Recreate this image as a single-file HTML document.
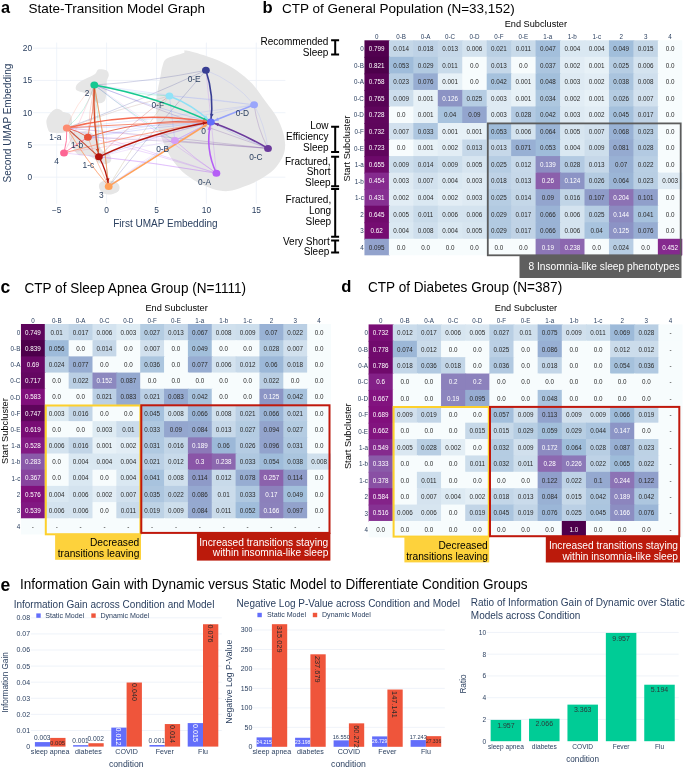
<!DOCTYPE html><html><head><meta charset="utf-8"><style>html,body{margin:0;padding:0;background:#fff;}svg{display:block;will-change:transform;}text{font-family:'Liberation Sans', sans-serif;}</style></head><body>
<svg width="685" height="768" viewBox="0 0 685 768" font-family="'Liberation Sans', sans-serif">
<rect width="685" height="768" fill="#fff"/>
<text x="1.00" y="12.60" font-size="16.3" fill="#000" font-weight="bold">a</text>
<text x="28.50" y="12.60" font-size="13.5" fill="#000">State-Transition Model Graph</text>
<text x="262.50" y="12.70" font-size="16.6" fill="#000" font-weight="bold">b</text>
<text x="282.10" y="12.60" font-size="13.5" fill="#000">CTP of General Population (N=33,152)</text>
<text x="0.60" y="292.60" font-size="17.5" fill="#000" font-weight="bold">c</text>
<text x="24.50" y="292.50" font-size="14.3" fill="#000" textLength="221.55" lengthAdjust="spacingAndGlyphs">CTP of Sleep Apnea Group (N=1111)</text>
<text x="341.20" y="291.90" font-size="16.6" fill="#000" font-weight="bold">d</text>
<text x="368.00" y="292.30" font-size="14.3" fill="#000" textLength="194.16" lengthAdjust="spacingAndGlyphs">CTP of Diabetes Group (N=387)</text>
<text x="0.60" y="590.80" font-size="17.5" fill="#000" font-weight="bold">e</text>
<text x="20.00" y="589.00" font-size="14.3" fill="#000" textLength="507.46" lengthAdjust="spacingAndGlyphs">Information Gain with Dynamic versus Static Model to Differentiate Condition Groups</text>
<line x1="56.70" y1="42.6" x2="56.70" y2="203.6" stroke="#ebf0f8" stroke-width="0.8"/>
<text x="56.70" y="212.74" font-size="8.4" text-anchor="middle" fill="#2a3f5f">−5</text>
<line x1="106.60" y1="42.6" x2="106.60" y2="203.6" stroke="#ebf0f8" stroke-width="0.8"/>
<text x="106.60" y="212.74" font-size="8.4" text-anchor="middle" fill="#2a3f5f">0</text>
<line x1="156.50" y1="42.6" x2="156.50" y2="203.6" stroke="#ebf0f8" stroke-width="0.8"/>
<text x="156.50" y="212.74" font-size="8.4" text-anchor="middle" fill="#2a3f5f">5</text>
<line x1="206.40" y1="42.6" x2="206.40" y2="203.6" stroke="#ebf0f8" stroke-width="0.8"/>
<text x="206.40" y="212.74" font-size="8.4" text-anchor="middle" fill="#2a3f5f">10</text>
<line x1="256.30" y1="42.6" x2="256.30" y2="203.6" stroke="#ebf0f8" stroke-width="0.8"/>
<text x="256.30" y="212.74" font-size="8.4" text-anchor="middle" fill="#2a3f5f">15</text>
<line x1="33.2" y1="177.20" x2="285.4" y2="177.20" stroke="#ebf0f8" stroke-width="0.8"/>
<text x="32.20" y="180.14" font-size="8.4" text-anchor="end" fill="#2a3f5f">0</text>
<line x1="33.2" y1="144.95" x2="285.4" y2="144.95" stroke="#ebf0f8" stroke-width="0.8"/>
<text x="32.20" y="147.89" font-size="8.4" text-anchor="end" fill="#2a3f5f">5</text>
<line x1="33.2" y1="112.70" x2="285.4" y2="112.70" stroke="#ebf0f8" stroke-width="0.8"/>
<text x="32.20" y="115.64" font-size="8.4" text-anchor="end" fill="#2a3f5f">10</text>
<line x1="33.2" y1="80.45" x2="285.4" y2="80.45" stroke="#ebf0f8" stroke-width="0.8"/>
<text x="32.20" y="83.39" font-size="8.4" text-anchor="end" fill="#2a3f5f">15</text>
<line x1="33.2" y1="48.20" x2="285.4" y2="48.20" stroke="#ebf0f8" stroke-width="0.8"/>
<text x="32.20" y="51.14" font-size="8.4" text-anchor="end" fill="#2a3f5f">20</text>
<text x="165.40" y="227.30" font-size="10" text-anchor="middle" fill="#2a3f5f">First UMAP Embedding</text>
<text x="0" y="0" font-size="10" text-anchor="middle" fill="#2a3f5f" transform="translate(11.20,123.1) rotate(-90)">Second UMAP Embedding</text>
<path d="M184.4 50.5C183.1 50.8 186.2 51.8 183.3 53.1C180.4 54.5 170.4 56.4 166.9 58.6C163.4 60.8 163.6 63.2 162.5 66.3C161.4 69.4 161.2 72.5 160.3 77.2C159.4 81.9 157.7 88.9 157.0 94.7C156.3 100.5 155.8 106.8 156.0 112.3C156.2 117.8 156.8 122.5 158.1 127.6C159.4 132.7 161.4 137.8 163.6 142.9C165.8 148.0 168.2 153.4 171.3 158.2C174.4 162.9 177.8 167.4 182.2 171.4C186.6 175.4 192.5 179.4 197.6 182.3C202.7 185.2 207.8 187.4 212.9 188.9C218.0 190.4 223.1 191.5 228.2 191.1C233.3 190.7 238.4 188.5 243.5 186.7C248.6 184.9 253.8 183.0 258.9 180.1C264.0 177.2 270.2 173.2 274.2 169.2C278.2 165.2 281.2 160.0 283.0 156.0C284.8 152.0 285.1 149.1 285.1 145.1C285.1 141.1 284.4 136.8 283.0 132.0C281.6 127.2 279.3 121.7 276.4 116.6C273.5 111.5 269.4 106.8 265.4 101.3C261.4 95.8 257.0 88.9 252.3 83.8C247.6 78.7 242.1 74.4 237.0 70.7C231.9 67.0 227.1 64.5 221.6 61.9C216.1 59.3 209.2 57.0 204.1 55.3C199.0 53.5 194.3 52.2 191.0 51.4C187.7 50.6 185.7 50.2 184.4 50.5Z" fill="#e6e6e6"/>
<path d="M97.6 69.9C98.5 69.1 98.7 69.2 100.2 69.3C101.7 69.4 105.4 69.6 106.8 70.6C108.2 71.6 108.8 73.5 108.8 75.2C108.8 77.0 107.2 78.6 106.8 81.1C106.4 83.6 106.8 87.0 106.5 90.3C106.2 93.6 106.2 98.6 104.8 100.8C103.4 103.0 99.9 103.4 98.3 103.4C96.7 103.4 96.1 102.2 95.0 100.8C93.9 99.4 93.5 96.2 91.7 94.9C90.0 93.6 87.0 93.7 84.5 92.9C82.0 92.1 78.0 91.5 76.6 90.3C75.2 89.1 75.7 87.1 76.2 85.7C76.8 84.3 78.0 83.0 79.9 81.7C81.8 80.4 85.2 79.1 87.7 77.8C90.2 76.5 93.3 75.2 95.0 73.9C96.7 72.6 96.7 70.7 97.6 69.9Z" fill="#e6e6e6"/>
<path d="M56.8 108.8C58.3 108.7 60.1 109.7 61.2 110.2C62.3 110.7 62.1 111.5 63.4 112.0C64.7 112.5 67.9 112.7 69.2 113.5C70.5 114.3 70.9 115.4 71.4 116.8C71.9 118.2 72.1 120.2 72.1 121.9C72.1 123.6 71.8 125.5 71.5 127.0C71.2 128.5 71.2 130.1 70.0 131.0C68.8 131.9 66.1 132.2 64.1 132.6C62.1 133.0 60.5 133.2 58.2 133.2C55.9 133.1 51.9 133.0 50.2 132.3C48.5 131.6 48.6 130.6 48.0 129.2C47.4 127.8 46.8 125.7 46.6 124.1C46.4 122.5 46.2 121.2 46.6 119.7C47.0 118.2 47.8 116.8 48.8 115.3C49.8 113.8 51.1 112.1 52.4 111.0C53.7 109.9 55.3 108.9 56.8 108.8Z" fill="#e6e6e6"/>
<path d="M70.0 131.0C71.5 130.2 75.3 132.0 78.0 132.0C80.7 132.0 83.5 130.7 86.0 131.0C88.5 131.3 91.2 132.5 93.0 134.0C94.8 135.5 95.8 137.8 97.0 140.0C98.2 142.2 98.8 145.0 100.0 147.0C101.2 149.0 102.3 150.7 104.0 152.0C105.7 153.3 108.8 153.5 110.0 155.0C111.2 156.5 111.7 159.5 111.0 161.0C110.3 162.5 108.0 163.7 106.0 164.0C104.0 164.3 101.2 164.0 99.0 163.0C96.8 162.0 95.2 159.3 93.0 158.0C90.8 156.7 88.3 155.5 86.0 155.0C83.7 154.5 81.0 155.8 79.0 155.0C77.0 154.2 75.3 152.0 74.0 150.0C72.7 148.0 71.8 145.2 71.0 143.0C70.2 140.8 69.2 139.0 69.0 137.0C68.8 135.0 68.5 131.8 70.0 131.0Z" fill="#e6e6e6"/>
<path d="M99.0 185.0C99.3 183.6 100.3 182.2 102.0 181.5C103.7 180.8 106.7 180.4 109.0 180.5C111.3 180.6 114.2 181.0 116.0 182.0C117.8 183.0 119.2 184.9 119.5 186.5C119.8 188.1 119.4 190.2 118.0 191.5C116.6 192.8 113.3 194.2 111.0 194.5C108.7 194.8 105.8 194.2 104.0 193.5C102.2 192.8 100.8 191.4 100.0 190.0C99.2 188.6 98.7 186.4 99.0 185.0Z" fill="#e6e6e6"/>
<path d="M205.9 70.3Q150.6 81.6 94.3 85.0" stroke="#383e93" stroke-width="0.5" fill="none" stroke-opacity="0.45"/>
<path d="M205.9 70.3Q137.5 101.9 66.8 128.0" stroke="#383e93" stroke-width="0.5" fill="none" stroke-opacity="0.45"/>
<path d="M205.9 70.3Q234.7 81.0 254.1 104.8" stroke="#9aa6fb" stroke-width="0.5" fill="none" stroke-opacity="0.45"/>
<path d="M205.9 70.3Q155.8 127.1 108.7 186.4" stroke="#383e93" stroke-width="0.5" fill="none" stroke-opacity="0.45"/>
<path d="M169.4 95.9Q131.6 92.4 94.3 85.0" stroke="#91e3f7" stroke-width="0.5" fill="none" stroke-opacity="0.45"/>
<path d="M169.4 95.9Q117.2 109.1 66.8 128.0" stroke="#91e3f7" stroke-width="0.5" fill="none" stroke-opacity="0.45"/>
<path d="M169.4 95.9Q172.2 118.2 174.9 140.6" stroke="#91e3f7" stroke-width="0.5" fill="none" stroke-opacity="0.45"/>
<path d="M169.4 95.9Q136.6 139.5 108.7 186.4" stroke="#91e3f7" stroke-width="0.5" fill="none" stroke-opacity="0.45"/>
<path d="M254.1 104.8Q212.0 98.4 169.4 95.9" stroke="#9aa6fb" stroke-width="0.5" fill="none" stroke-opacity="0.45"/>
<path d="M254.1 104.8Q160.8 119.4 66.8 128.0" stroke="#9aa6fb" stroke-width="0.5" fill="none" stroke-opacity="0.45"/>
<path d="M254.1 104.8Q174.0 96.9 94.3 85.0" stroke="#9aa6fb" stroke-width="0.5" fill="none" stroke-opacity="0.45"/>
<path d="M268.0 148.4Q257.2 127.8 254.1 104.8" stroke="#6b3a9c" stroke-width="0.5" fill="none" stroke-opacity="0.45"/>
<path d="M254.1 104.8Q264.9 125.4 268.0 148.4" stroke="#9aa6fb" stroke-width="0.5" fill="none" stroke-opacity="0.45"/>
<path d="M268.0 148.4Q167.6 136.2 66.8 128.0" stroke="#6b3a9c" stroke-width="0.5" fill="none" stroke-opacity="0.45"/>
<path d="M268.0 148.4Q221.4 144.5 174.9 140.6" stroke="#6b3a9c" stroke-width="0.5" fill="none" stroke-opacity="0.45"/>
<path d="M268.0 148.4Q180.5 118.6 94.3 85.0" stroke="#6b3a9c" stroke-width="0.5" fill="none" stroke-opacity="0.45"/>
<path d="M174.9 140.6Q121.1 132.3 66.8 128.0" stroke="#d59ef6" stroke-width="0.5" fill="none" stroke-opacity="0.45"/>
<path d="M174.9 140.6Q134.6 112.8 94.3 85.0" stroke="#d59ef6" stroke-width="0.5" fill="none" stroke-opacity="0.45"/>
<path d="M174.9 140.6Q172.2 118.2 169.4 95.9" stroke="#c48ff0" stroke-width="0.5" fill="none" stroke-opacity="0.45"/>
<path d="M174.9 140.6Q194.4 158.5 216.4 173.2" stroke="#d59ef6" stroke-width="0.5" fill="none" stroke-opacity="0.45"/>
<path d="M174.9 140.6Q140.7 161.9 108.7 186.4" stroke="#d59ef6" stroke-width="0.5" fill="none" stroke-opacity="0.45"/>
<path d="M216.4 173.2Q142.5 147.7 66.8 128.0" stroke="#b55ef6" stroke-width="0.5" fill="none" stroke-opacity="0.45"/>
<path d="M216.4 173.2Q194.4 158.5 174.9 140.6" stroke="#b55ef6" stroke-width="0.5" fill="none" stroke-opacity="0.45"/>
<path d="M216.4 173.2Q153.6 131.5 94.3 85.0" stroke="#b55ef6" stroke-width="0.5" fill="none" stroke-opacity="0.45"/>
<path d="M216.4 173.2Q152.7 153.3 87.9 137.2" stroke="#b55ef6" stroke-width="0.5" fill="none" stroke-opacity="0.45"/>
<path d="M216.4 173.2Q211.2 121.8 205.9 70.3" stroke="#b55ef6" stroke-width="0.5" fill="none" stroke-opacity="0.45"/>
<path d="M210.8 122.0Q151.3 107.3 94.3 85.0" stroke="#636efa" stroke-width="0.5" fill="none" stroke-opacity="0.45"/>
<path d="M210.8 122.0Q138.9 128.0 66.8 128.0" stroke="#636efa" stroke-width="0.5" fill="none" stroke-opacity="0.45"/>
<path d="M210.8 122.0Q192.9 131.3 174.9 140.6" stroke="#636efa" stroke-width="0.5" fill="none" stroke-opacity="0.45"/>
<path d="M210.8 122.0Q149.1 127.6 87.9 137.2" stroke="#636efa" stroke-width="0.5" fill="none" stroke-opacity="0.45"/>
<path d="M210.8 122.0Q158.1 151.7 108.7 186.4" stroke="#636efa" stroke-width="0.5" fill="none" stroke-opacity="0.45"/>
<path d="M210.8 122.0Q238.6 137.0 268.0 148.4" stroke="#636efa" stroke-width="0.5" fill="none" stroke-opacity="0.45"/>
<path d="M66.8 128.0Q75.5 103.3 94.3 85.0" stroke="#fd8b70" stroke-width="0.5" fill="none" stroke-opacity="0.45"/>
<path d="M66.8 128.0Q85.3 158.9 108.7 186.4" stroke="#fd8b70" stroke-width="0.5" fill="none" stroke-opacity="0.45"/>
<path d="M66.8 128.0Q117.2 109.1 169.4 95.9" stroke="#fd8b70" stroke-width="0.5" fill="none" stroke-opacity="0.45"/>
<path d="M87.9 137.2Q89.1 110.9 94.3 85.0" stroke="#e9533a" stroke-width="0.5" fill="none" stroke-opacity="0.45"/>
<path d="M87.9 137.2Q96.5 162.6 108.7 186.4" stroke="#e9533a" stroke-width="0.5" fill="none" stroke-opacity="0.45"/>
<path d="M98.9 156.8Q94.6 121.0 94.3 85.0" stroke="#b3140c" stroke-width="0.5" fill="none" stroke-opacity="0.45"/>
<path d="M98.9 156.8Q130.9 122.6 169.4 95.9" stroke="#b3140c" stroke-width="0.5" fill="none" stroke-opacity="0.45"/>
<path d="M94.3 85.0Q87.3 110.8 66.8 128.0" stroke="#15c891" stroke-width="0.5" fill="none" stroke-opacity="0.45"/>
<path d="M94.3 85.0Q104.5 135.3 108.7 186.4" stroke="#15c891" stroke-width="0.5" fill="none" stroke-opacity="0.45"/>
<path d="M94.3 85.0Q99.6 120.7 98.9 156.8" stroke="#15c891" stroke-width="0.5" fill="none" stroke-opacity="0.45"/>
<path d="M94.3 85.0Q131.3 94.4 169.4 95.9" stroke="#15c891" stroke-width="0.5" fill="none" stroke-opacity="0.45"/>
<path d="M94.3 85.0Q132.9 115.3 174.9 140.6" stroke="#15c891" stroke-width="0.5" fill="none" stroke-opacity="0.45"/>
<path d="M108.7 186.4Q104.5 135.3 94.3 85.0" stroke="#ffa15a" stroke-width="0.5" fill="none" stroke-opacity="0.45"/>
<path d="M108.7 186.4Q85.3 158.9 66.8 128.0" stroke="#ffa15a" stroke-width="0.5" fill="none" stroke-opacity="0.45"/>
<path d="M108.7 186.4Q96.5 162.6 87.9 137.2" stroke="#ffa15a" stroke-width="0.5" fill="none" stroke-opacity="0.45"/>
<path d="M108.7 186.4Q136.6 139.5 169.4 95.9" stroke="#ffa15a" stroke-width="0.5" fill="none" stroke-opacity="0.45"/>
<path d="M108.7 186.4Q106.6 170.7 98.9 156.8" stroke="#ffa15a" stroke-width="0.5" fill="none" stroke-opacity="0.45"/>
<path d="M64.0 152.9Q138.6 143.3 210.8 122.0" stroke="#fd6593" stroke-width="0.5" fill="none" stroke-opacity="0.45"/>
<path d="M64.0 152.9Q81.9 120.2 94.3 85.0" stroke="#fd6593" stroke-width="0.5" fill="none" stroke-opacity="0.45"/>
<path d="M216.4 173.2Q157.9 163.0 98.9 156.8" stroke="#b55ef6" stroke-width="0.5" fill="none" stroke-opacity="0.45"/>
<path d="M174.9 140.6Q131.5 136.9 87.9 137.2" stroke="#d59ef6" stroke-width="0.5" fill="none" stroke-opacity="0.45"/>
<path d="M174.9 140.6Q136.5 146.7 98.9 156.8" stroke="#c48ff0" stroke-width="0.5" fill="none" stroke-opacity="0.45"/>
<path d="M210.8 122.0Q154.0 136.5 98.9 156.8" stroke="#636efa" stroke-width="0.5" fill="none" stroke-opacity="0.45"/>
<path d="M268.0 148.4Q178.1 140.8 87.9 137.2" stroke="#6b3a9c" stroke-width="0.5" fill="none" stroke-opacity="0.45"/>
<path d="M254.1 104.8Q171.4 123.0 87.9 137.2" stroke="#9aa6fb" stroke-width="0.5" fill="none" stroke-opacity="0.45"/>
<path d="M216.4 173.2Q140.6 160.1 64.0 152.9" stroke="#b55ef6" stroke-width="0.5" fill="none" stroke-opacity="0.45"/>
<path d="M87.9 137.2Q147.9 117.7 210.8 122.0" stroke="#e9533a" stroke-width="1.1" fill="none" stroke-opacity="0.85"/>
<path d="M66.8 128.0Q138.7 123.0 210.8 122.0" stroke="#f47a62" stroke-width="1.1" fill="none" stroke-opacity="0.85"/>
<path d="M64.0 152.9Q136.6 133.5 210.8 122.0" stroke="#fd8b70" stroke-width="0.9" fill="none" stroke-opacity="0.85"/>
<path d="M87.9 137.2Q78.1 130.8 66.8 128.0" stroke="#e0503a" stroke-width="1.0" fill="none" stroke-opacity="0.85"/>
<path d="M64.0 152.9Q67.4 140.7 66.8 128.0" stroke="#fd6593" stroke-width="1.0" fill="none" stroke-opacity="0.85"/>
<path d="M64.0 152.9Q76.0 145.1 87.9 137.2" stroke="#fd6593" stroke-width="1.0" fill="none" stroke-opacity="0.85"/>
<path d="M66.8 128.0Q82.8 142.4 98.9 156.8" stroke="#c23a20" stroke-width="1.1" fill="none" stroke-opacity="0.85"/>
<path d="M94.3 85.0Q94.1 111.5 87.9 137.2" stroke="#f06a4a" stroke-width="0.9" fill="none" stroke-opacity="0.85"/>
<path d="M94.3 85.0Q104.5 135.3 108.7 186.4" stroke="#fb8a55" stroke-width="0.9" fill="none" stroke-opacity="0.85"/>
<path d="M66.8 128.0Q85.3 158.9 108.7 186.4" stroke="#fd9c66" stroke-width="0.7" fill="none" stroke-opacity="0.85"/>
<path d="M174.9 140.6Q192.9 131.3 210.8 122.0" stroke="#d59ef6" stroke-width="0.8" fill="none" stroke-opacity="0.85"/>
<path d="M94.3 85.0Q155.0 95.9 210.8 122.0" stroke="#15c891" stroke-width="1.6" fill="none" stroke-opacity="1.0"/>
<path d="M206.8 120.1L202.8 120.2L204.3 117.0Z" fill="#15c891" fill-opacity="1.0"/>
<path d="M205.9 70.3Q214.3 95.6 210.8 122.0" stroke="#383e93" stroke-width="1.6" fill="none" stroke-opacity="1.0"/>
<path d="M211.4 117.6L210.1 113.8L213.6 114.3Z" fill="#383e93" fill-opacity="1.0"/>
<path d="M169.4 95.9Q192.8 104.7 210.8 122.0" stroke="#8fe0f5" stroke-width="1.6" fill="none" stroke-opacity="1.0"/>
<path d="M207.6 119.0L203.8 117.8L206.3 115.2Z" fill="#8fe0f5" fill-opacity="1.0"/>
<path d="M254.1 104.8Q232.4 113.4 210.8 122.0" stroke="#96a2fb" stroke-width="1.5" fill="none" stroke-opacity="1.0"/>
<path d="M214.9 120.4L217.6 117.4L218.9 120.7Z" fill="#96a2fb" fill-opacity="1.0"/>
<path d="M268.0 148.4Q240.7 132.5 210.8 122.0" stroke="#6b3a9c" stroke-width="1.6" fill="none" stroke-opacity="1.0"/>
<path d="M215.0 123.5L218.9 123.0L217.8 126.3Z" fill="#6b3a9c" fill-opacity="1.0"/>
<path d="M216.4 173.2Q204.7 148.6 210.8 122.0" stroke="#b55ef6" stroke-width="1.6" fill="none" stroke-opacity="1.0"/>
<path d="M209.8 126.3L210.8 130.2L207.2 129.4Z" fill="#b55ef6" fill-opacity="1.0"/>
<path d="M108.7 186.4Q159.8 154.2 210.8 122.0" stroke="#ffa15a" stroke-width="1.5" fill="none" stroke-opacity="1.0"/>
<path d="M207.1 124.3L205.0 127.8L203.1 124.7Z" fill="#ffa15a" fill-opacity="1.0"/>
<path d="M66.8 128.0Q138.2 110.0 210.8 122.0" stroke="#f56b52" stroke-width="1.5" fill="none" stroke-opacity="1.0"/>
<path d="M206.5 121.3L202.6 122.5L203.2 118.9Z" fill="#f56b52" fill-opacity="1.0"/>
<path d="M98.9 156.8Q152.5 131.8 210.8 122.0" stroke="#b3140c" stroke-width="1.4" fill="none" stroke-opacity="1.0"/>
<path d="M206.5 122.7L203.2 125.1L202.6 121.5Z" fill="#b3140c" fill-opacity="1.0"/>
<path d="M94.3 85.0Q92.6 121.2 98.9 156.8" stroke="#cf4a24" stroke-width="1.3" fill="none" stroke-opacity="1.0"/>
<path d="M98.1 152.5L95.7 149.2L99.3 148.6Z" fill="#cf4a24" fill-opacity="1.0"/>
<path d="M98.9 156.8Q106.6 170.7 108.7 186.4" stroke="#b3140c" stroke-width="1.3" fill="none" stroke-opacity="1.0"/>
<path d="M108.1 182.0L105.9 178.7L109.5 178.2Z" fill="#b3140c" fill-opacity="1.0"/>
<ellipse cx="210.8" cy="122.0" rx="3.9" ry="3.5" fill="#636efa"/>
<ellipse cx="216.4" cy="173.2" rx="3.9" ry="3.5" fill="#b55ef6"/>
<ellipse cx="174.9" cy="140.6" rx="3.9" ry="3.5" fill="#d59ef6"/>
<ellipse cx="268.0" cy="148.4" rx="3.9" ry="3.5" fill="#6b3a9c"/>
<ellipse cx="254.1" cy="104.8" rx="3.9" ry="3.5" fill="#9aa6fb"/>
<ellipse cx="205.9" cy="70.3" rx="3.9" ry="3.5" fill="#383e93"/>
<ellipse cx="169.4" cy="95.9" rx="3.9" ry="3.5" fill="#91e3f7"/>
<ellipse cx="66.8" cy="128.0" rx="3.9" ry="3.5" fill="#fd8b70"/>
<ellipse cx="87.9" cy="137.2" rx="3.9" ry="3.5" fill="#e9533a"/>
<ellipse cx="98.9" cy="156.8" rx="3.9" ry="3.5" fill="#b3140c"/>
<ellipse cx="94.3" cy="85.0" rx="3.9" ry="3.5" fill="#15c891"/>
<ellipse cx="108.7" cy="186.4" rx="3.9" ry="3.5" fill="#ffa15a"/>
<ellipse cx="64.0" cy="152.9" rx="3.9" ry="3.5" fill="#fd6593"/>
<text x="203.50" y="133.64" font-size="8.4" text-anchor="middle" fill="#2a3f5f">0</text>
<text x="204.60" y="184.74" font-size="8.4" text-anchor="middle" fill="#2a3f5f">0-A</text>
<text x="162.70" y="152.44" font-size="8.4" text-anchor="middle" fill="#2a3f5f">0-B</text>
<text x="255.90" y="160.14" font-size="8.4" text-anchor="middle" fill="#2a3f5f">0-C</text>
<text x="242.40" y="116.14" font-size="8.4" text-anchor="middle" fill="#2a3f5f">0-D</text>
<text x="194.20" y="81.64" font-size="8.4" text-anchor="middle" fill="#2a3f5f">0-E</text>
<text x="157.90" y="107.54" font-size="8.4" text-anchor="middle" fill="#2a3f5f">0-F</text>
<text x="55.30" y="139.84" font-size="8.4" text-anchor="middle" fill="#2a3f5f">1-a</text>
<text x="77.00" y="148.24" font-size="8.4" text-anchor="middle" fill="#2a3f5f">1-b</text>
<text x="88.30" y="167.54" font-size="8.4" text-anchor="middle" fill="#2a3f5f">1-c</text>
<text x="87.00" y="96.04" font-size="8.4" text-anchor="middle" fill="#2a3f5f">2</text>
<text x="101.40" y="197.84" font-size="8.4" text-anchor="middle" fill="#2a3f5f">3</text>
<text x="56.70" y="164.44" font-size="8.4" text-anchor="middle" fill="#2a3f5f">4</text>
<g>
<rect x="364.45" y="40.30" width="25.45" height="17.54" fill="#51014f"/>
<rect x="388.90" y="40.30" width="25.45" height="17.54" fill="#c4d7e8"/>
<rect x="413.35" y="40.30" width="25.45" height="17.54" fill="#bed2e6"/>
<rect x="437.80" y="40.30" width="25.45" height="17.54" fill="#c6d8e9"/>
<rect x="462.25" y="40.30" width="25.45" height="17.54" fill="#d4e3ef"/>
<rect x="486.70" y="40.30" width="25.45" height="17.54" fill="#bad0e4"/>
<rect x="511.15" y="40.30" width="25.45" height="17.54" fill="#c9dbea"/>
<rect x="535.60" y="40.30" width="25.45" height="17.54" fill="#a3bfdc"/>
<rect x="560.05" y="40.30" width="25.45" height="17.54" fill="#dae8f2"/>
<rect x="584.50" y="40.30" width="25.45" height="17.54" fill="#dae8f2"/>
<rect x="608.95" y="40.30" width="25.45" height="17.54" fill="#a1bedb"/>
<rect x="633.40" y="40.30" width="25.45" height="17.54" fill="#c3d6e7"/>
<rect x="657.85" y="40.30" width="24.45" height="17.54" fill="#f7fcfd"/>
<rect x="364.45" y="56.84" width="25.45" height="17.54" fill="#4d004b"/>
<rect x="388.90" y="56.84" width="25.45" height="17.54" fill="#9fbcda"/>
<rect x="413.35" y="56.84" width="25.45" height="17.54" fill="#b2cae1"/>
<rect x="437.80" y="56.84" width="25.45" height="17.54" fill="#c9dbea"/>
<rect x="462.25" y="56.84" width="25.45" height="17.54" fill="#f7fcfd"/>
<rect x="486.70" y="56.84" width="25.45" height="17.54" fill="#c6d8e9"/>
<rect x="511.15" y="56.84" width="25.45" height="17.54" fill="#f7fcfd"/>
<rect x="535.60" y="56.84" width="25.45" height="17.54" fill="#abc5df"/>
<rect x="560.05" y="56.84" width="25.45" height="17.54" fill="#e2edf5"/>
<rect x="584.50" y="56.84" width="25.45" height="17.54" fill="#e7f1f7"/>
<rect x="608.95" y="56.84" width="25.45" height="17.54" fill="#b6cde3"/>
<rect x="633.40" y="56.84" width="25.45" height="17.54" fill="#d4e3ef"/>
<rect x="657.85" y="56.84" width="24.45" height="17.54" fill="#f7fcfd"/>
<rect x="364.45" y="73.38" width="25.45" height="17.54" fill="#590356"/>
<rect x="388.90" y="73.38" width="25.45" height="17.54" fill="#b8cee3"/>
<rect x="413.35" y="73.38" width="25.45" height="17.54" fill="#97add2"/>
<rect x="437.80" y="73.38" width="25.45" height="17.54" fill="#e7f1f7"/>
<rect x="462.25" y="73.38" width="25.45" height="17.54" fill="#f7fcfd"/>
<rect x="486.70" y="73.38" width="25.45" height="17.54" fill="#a6c2dd"/>
<rect x="511.15" y="73.38" width="25.45" height="17.54" fill="#e7f1f7"/>
<rect x="535.60" y="73.38" width="25.45" height="17.54" fill="#a2bfdb"/>
<rect x="560.05" y="73.38" width="25.45" height="17.54" fill="#deeaf3"/>
<rect x="584.50" y="73.38" width="25.45" height="17.54" fill="#e2edf5"/>
<rect x="608.95" y="73.38" width="25.45" height="17.54" fill="#aac4de"/>
<rect x="633.40" y="73.38" width="25.45" height="17.54" fill="#cfdfed"/>
<rect x="657.85" y="73.38" width="24.45" height="17.54" fill="#f7fcfd"/>
<rect x="364.45" y="89.92" width="25.45" height="17.54" fill="#570355"/>
<rect x="388.90" y="89.92" width="25.45" height="17.54" fill="#cddeec"/>
<rect x="413.35" y="89.92" width="25.45" height="17.54" fill="#e7f1f7"/>
<rect x="437.80" y="89.92" width="25.45" height="17.54" fill="#8c93c4"/>
<rect x="462.25" y="89.92" width="25.45" height="17.54" fill="#b6cde3"/>
<rect x="486.70" y="89.92" width="25.45" height="17.54" fill="#deeaf3"/>
<rect x="511.15" y="89.92" width="25.45" height="17.54" fill="#e7f1f7"/>
<rect x="535.60" y="89.92" width="25.45" height="17.54" fill="#adc7df"/>
<rect x="560.05" y="89.92" width="25.45" height="17.54" fill="#e2edf5"/>
<rect x="584.50" y="89.92" width="25.45" height="17.54" fill="#e7f1f7"/>
<rect x="608.95" y="89.92" width="25.45" height="17.54" fill="#b5cce2"/>
<rect x="633.40" y="89.92" width="25.45" height="17.54" fill="#d2e1ee"/>
<rect x="657.85" y="89.92" width="24.45" height="17.54" fill="#f7fcfd"/>
<rect x="364.45" y="106.46" width="25.45" height="17.54" fill="#5f055c"/>
<rect x="388.90" y="106.46" width="25.45" height="17.54" fill="#f7fcfd"/>
<rect x="413.35" y="106.46" width="25.45" height="17.54" fill="#e7f1f7"/>
<rect x="437.80" y="106.46" width="25.45" height="17.54" fill="#a8c3de"/>
<rect x="462.25" y="106.46" width="25.45" height="17.54" fill="#93a5ce"/>
<rect x="486.70" y="106.46" width="25.45" height="17.54" fill="#deeaf3"/>
<rect x="511.15" y="106.46" width="25.45" height="17.54" fill="#b3cae2"/>
<rect x="535.60" y="106.46" width="25.45" height="17.54" fill="#a6c2dd"/>
<rect x="560.05" y="106.46" width="25.45" height="17.54" fill="#deeaf3"/>
<rect x="584.50" y="106.46" width="25.45" height="17.54" fill="#e2edf5"/>
<rect x="608.95" y="106.46" width="25.45" height="17.54" fill="#a4c0dc"/>
<rect x="633.40" y="106.46" width="25.45" height="17.54" fill="#c0d3e6"/>
<rect x="657.85" y="106.46" width="24.45" height="17.54" fill="#f7fcfd"/>
<rect x="364.45" y="123.00" width="25.45" height="17.54" fill="#5e055b"/>
<rect x="388.90" y="123.00" width="25.45" height="17.54" fill="#d2e1ee"/>
<rect x="413.35" y="123.00" width="25.45" height="17.54" fill="#aec7e0"/>
<rect x="437.80" y="123.00" width="25.45" height="17.54" fill="#e7f1f7"/>
<rect x="462.25" y="123.00" width="25.45" height="17.54" fill="#e7f1f7"/>
<rect x="486.70" y="123.00" width="25.45" height="17.54" fill="#9fbcda"/>
<rect x="511.15" y="123.00" width="25.45" height="17.54" fill="#d4e3ef"/>
<rect x="535.60" y="123.00" width="25.45" height="17.54" fill="#9bb5d6"/>
<rect x="560.05" y="123.00" width="25.45" height="17.54" fill="#d7e5f0"/>
<rect x="584.50" y="123.00" width="25.45" height="17.54" fill="#d2e1ee"/>
<rect x="608.95" y="123.00" width="25.45" height="17.54" fill="#99b2d5"/>
<rect x="633.40" y="123.00" width="25.45" height="17.54" fill="#b8cee3"/>
<rect x="657.85" y="123.00" width="24.45" height="17.54" fill="#f7fcfd"/>
<rect x="364.45" y="139.54" width="25.45" height="17.54" fill="#60055d"/>
<rect x="388.90" y="139.54" width="25.45" height="17.54" fill="#f7fcfd"/>
<rect x="413.35" y="139.54" width="25.45" height="17.54" fill="#e7f1f7"/>
<rect x="437.80" y="139.54" width="25.45" height="17.54" fill="#e2edf5"/>
<rect x="462.25" y="139.54" width="25.45" height="17.54" fill="#c6d8e9"/>
<rect x="486.70" y="139.54" width="25.45" height="17.54" fill="#c6d8e9"/>
<rect x="511.15" y="139.54" width="25.45" height="17.54" fill="#98b0d4"/>
<rect x="535.60" y="139.54" width="25.45" height="17.54" fill="#9fbcda"/>
<rect x="560.05" y="139.54" width="25.45" height="17.54" fill="#dae8f2"/>
<rect x="584.50" y="139.54" width="25.45" height="17.54" fill="#cddeec"/>
<rect x="608.95" y="139.54" width="25.45" height="17.54" fill="#95aad0"/>
<rect x="633.40" y="139.54" width="25.45" height="17.54" fill="#b3cae2"/>
<rect x="657.85" y="139.54" width="24.45" height="17.54" fill="#f7fcfd"/>
<rect x="364.45" y="156.08" width="25.45" height="17.54" fill="#6d096a"/>
<rect x="388.90" y="156.08" width="25.45" height="17.54" fill="#cddeec"/>
<rect x="413.35" y="156.08" width="25.45" height="17.54" fill="#c4d7e8"/>
<rect x="437.80" y="156.08" width="25.45" height="17.54" fill="#cddeec"/>
<rect x="462.25" y="156.08" width="25.45" height="17.54" fill="#d7e5f0"/>
<rect x="486.70" y="156.08" width="25.45" height="17.54" fill="#b6cde3"/>
<rect x="511.15" y="156.08" width="25.45" height="17.54" fill="#c7d9ea"/>
<rect x="535.60" y="156.08" width="25.45" height="17.54" fill="#8c8cc1"/>
<rect x="560.05" y="156.08" width="25.45" height="17.54" fill="#b3cae2"/>
<rect x="584.50" y="156.08" width="25.45" height="17.54" fill="#c6d8e9"/>
<rect x="608.95" y="156.08" width="25.45" height="17.54" fill="#99b1d4"/>
<rect x="633.40" y="156.08" width="25.45" height="17.54" fill="#b9cfe4"/>
<rect x="657.85" y="156.08" width="24.45" height="17.54" fill="#f7fcfd"/>
<rect x="364.45" y="172.62" width="25.45" height="17.54" fill="#852a8e"/>
<rect x="388.90" y="172.62" width="25.45" height="17.54" fill="#deeaf3"/>
<rect x="413.35" y="172.62" width="25.45" height="17.54" fill="#d2e1ee"/>
<rect x="437.80" y="172.62" width="25.45" height="17.54" fill="#dae8f2"/>
<rect x="462.25" y="172.62" width="25.45" height="17.54" fill="#deeaf3"/>
<rect x="486.70" y="172.62" width="25.45" height="17.54" fill="#bed2e6"/>
<rect x="511.15" y="172.62" width="25.45" height="17.54" fill="#c6d8e9"/>
<rect x="535.60" y="172.62" width="25.45" height="17.54" fill="#8b5fab"/>
<rect x="560.05" y="172.62" width="25.45" height="17.54" fill="#8c94c5"/>
<rect x="584.50" y="172.62" width="25.45" height="17.54" fill="#b5cce2"/>
<rect x="608.95" y="172.62" width="25.45" height="17.54" fill="#9bb5d6"/>
<rect x="633.40" y="172.62" width="25.45" height="17.54" fill="#b8cee3"/>
<rect x="657.85" y="172.62" width="24.45" height="17.54" fill="#deeaf3"/>
<rect x="364.45" y="189.16" width="25.45" height="17.54" fill="#863092"/>
<rect x="388.90" y="189.16" width="25.45" height="17.54" fill="#e2edf5"/>
<rect x="413.35" y="189.16" width="25.45" height="17.54" fill="#dae8f2"/>
<rect x="437.80" y="189.16" width="25.45" height="17.54" fill="#e2edf5"/>
<rect x="462.25" y="189.16" width="25.45" height="17.54" fill="#deeaf3"/>
<rect x="486.70" y="189.16" width="25.45" height="17.54" fill="#b6cde3"/>
<rect x="511.15" y="189.16" width="25.45" height="17.54" fill="#c4d7e8"/>
<rect x="535.60" y="189.16" width="25.45" height="17.54" fill="#93a5ce"/>
<rect x="560.05" y="189.16" width="25.45" height="17.54" fill="#c1d5e7"/>
<rect x="584.50" y="189.16" width="25.45" height="17.54" fill="#8f9cc9"/>
<rect x="608.95" y="189.16" width="25.45" height="17.54" fill="#8c72b4"/>
<rect x="633.40" y="189.16" width="25.45" height="17.54" fill="#909fcb"/>
<rect x="657.85" y="189.16" width="24.45" height="17.54" fill="#f7fcfd"/>
<rect x="364.45" y="205.70" width="25.45" height="17.54" fill="#700a6c"/>
<rect x="388.90" y="205.70" width="25.45" height="17.54" fill="#d7e5f0"/>
<rect x="413.35" y="205.70" width="25.45" height="17.54" fill="#c9dbea"/>
<rect x="437.80" y="205.70" width="25.45" height="17.54" fill="#d4e3ef"/>
<rect x="462.25" y="205.70" width="25.45" height="17.54" fill="#d4e3ef"/>
<rect x="486.70" y="205.70" width="25.45" height="17.54" fill="#b2cae1"/>
<rect x="511.15" y="205.70" width="25.45" height="17.54" fill="#c0d3e6"/>
<rect x="535.60" y="205.70" width="25.45" height="17.54" fill="#9ab3d5"/>
<rect x="560.05" y="205.70" width="25.45" height="17.54" fill="#d4e3ef"/>
<rect x="584.50" y="205.70" width="25.45" height="17.54" fill="#b6cde3"/>
<rect x="608.95" y="205.70" width="25.45" height="17.54" fill="#8c8ac0"/>
<rect x="633.40" y="205.70" width="25.45" height="17.54" fill="#a7c2dd"/>
<rect x="657.85" y="205.70" width="24.45" height="17.54" fill="#f7fcfd"/>
<rect x="364.45" y="222.24" width="25.45" height="17.54" fill="#750c71"/>
<rect x="388.90" y="222.24" width="25.45" height="17.54" fill="#dae8f2"/>
<rect x="413.35" y="222.24" width="25.45" height="17.54" fill="#cfdfed"/>
<rect x="437.80" y="222.24" width="25.45" height="17.54" fill="#dae8f2"/>
<rect x="462.25" y="222.24" width="25.45" height="17.54" fill="#d7e5f0"/>
<rect x="486.70" y="222.24" width="25.45" height="17.54" fill="#b2cae1"/>
<rect x="511.15" y="222.24" width="25.45" height="17.54" fill="#c0d3e6"/>
<rect x="535.60" y="222.24" width="25.45" height="17.54" fill="#9ab3d5"/>
<rect x="560.05" y="222.24" width="25.45" height="17.54" fill="#d4e3ef"/>
<rect x="584.50" y="222.24" width="25.45" height="17.54" fill="#a8c3de"/>
<rect x="608.95" y="222.24" width="25.45" height="17.54" fill="#8c93c5"/>
<rect x="633.40" y="222.24" width="25.45" height="17.54" fill="#97add2"/>
<rect x="657.85" y="222.24" width="24.45" height="17.54" fill="#f7fcfd"/>
<rect x="364.45" y="238.78" width="25.45" height="16.54" fill="#92a2cc"/>
<rect x="388.90" y="238.78" width="25.45" height="16.54" fill="#f7fcfd"/>
<rect x="413.35" y="238.78" width="25.45" height="16.54" fill="#f7fcfd"/>
<rect x="437.80" y="238.78" width="25.45" height="16.54" fill="#f7fcfd"/>
<rect x="462.25" y="238.78" width="25.45" height="16.54" fill="#f7fcfd"/>
<rect x="486.70" y="238.78" width="25.45" height="16.54" fill="#f7fcfd"/>
<rect x="511.15" y="238.78" width="25.45" height="16.54" fill="#f7fcfd"/>
<rect x="535.60" y="238.78" width="25.45" height="16.54" fill="#8c77b7"/>
<rect x="560.05" y="238.78" width="25.45" height="16.54" fill="#8c66af"/>
<rect x="584.50" y="238.78" width="25.45" height="16.54" fill="#f7fcfd"/>
<rect x="608.95" y="238.78" width="25.45" height="16.54" fill="#b7cde3"/>
<rect x="633.40" y="238.78" width="25.45" height="16.54" fill="#f7fcfd"/>
<rect x="657.85" y="238.78" width="24.45" height="16.54" fill="#852a8e"/>
<text x="376.68" y="51.12" font-size="6.3" text-anchor="middle" fill="#fff">0.799</text>
<text x="401.12" y="51.12" font-size="6.3" text-anchor="middle" fill="#2b2b2b">0.014</text>
<text x="425.57" y="51.12" font-size="6.3" text-anchor="middle" fill="#2b2b2b">0.018</text>
<text x="450.02" y="51.12" font-size="6.3" text-anchor="middle" fill="#2b2b2b">0.013</text>
<text x="474.47" y="51.12" font-size="6.3" text-anchor="middle" fill="#2b2b2b">0.006</text>
<text x="498.92" y="51.12" font-size="6.3" text-anchor="middle" fill="#2b2b2b">0.021</text>
<text x="523.38" y="51.12" font-size="6.3" text-anchor="middle" fill="#2b2b2b">0.011</text>
<text x="547.83" y="51.12" font-size="6.3" text-anchor="middle" fill="#2b2b2b">0.047</text>
<text x="572.27" y="51.12" font-size="6.3" text-anchor="middle" fill="#2b2b2b">0.004</text>
<text x="596.73" y="51.12" font-size="6.3" text-anchor="middle" fill="#2b2b2b">0.004</text>
<text x="621.17" y="51.12" font-size="6.3" text-anchor="middle" fill="#2b2b2b">0.049</text>
<text x="645.62" y="51.12" font-size="6.3" text-anchor="middle" fill="#2b2b2b">0.015</text>
<text x="670.08" y="51.12" font-size="6.3" text-anchor="middle" fill="#2b2b2b">0.0</text>
<text x="376.68" y="67.66" font-size="6.3" text-anchor="middle" fill="#fff">0.821</text>
<text x="401.12" y="67.66" font-size="6.3" text-anchor="middle" fill="#2b2b2b">0.053</text>
<text x="425.57" y="67.66" font-size="6.3" text-anchor="middle" fill="#2b2b2b">0.029</text>
<text x="450.02" y="67.66" font-size="6.3" text-anchor="middle" fill="#2b2b2b">0.011</text>
<text x="474.47" y="67.66" font-size="6.3" text-anchor="middle" fill="#2b2b2b">0.0</text>
<text x="498.92" y="67.66" font-size="6.3" text-anchor="middle" fill="#2b2b2b">0.013</text>
<text x="523.38" y="67.66" font-size="6.3" text-anchor="middle" fill="#2b2b2b">0.0</text>
<text x="547.83" y="67.66" font-size="6.3" text-anchor="middle" fill="#2b2b2b">0.037</text>
<text x="572.27" y="67.66" font-size="6.3" text-anchor="middle" fill="#2b2b2b">0.002</text>
<text x="596.73" y="67.66" font-size="6.3" text-anchor="middle" fill="#2b2b2b">0.001</text>
<text x="621.17" y="67.66" font-size="6.3" text-anchor="middle" fill="#2b2b2b">0.025</text>
<text x="645.62" y="67.66" font-size="6.3" text-anchor="middle" fill="#2b2b2b">0.006</text>
<text x="670.08" y="67.66" font-size="6.3" text-anchor="middle" fill="#2b2b2b">0.0</text>
<text x="376.68" y="84.20" font-size="6.3" text-anchor="middle" fill="#fff">0.758</text>
<text x="401.12" y="84.20" font-size="6.3" text-anchor="middle" fill="#2b2b2b">0.023</text>
<text x="425.57" y="84.20" font-size="6.3" text-anchor="middle" fill="#2b2b2b">0.076</text>
<text x="450.02" y="84.20" font-size="6.3" text-anchor="middle" fill="#2b2b2b">0.001</text>
<text x="474.47" y="84.20" font-size="6.3" text-anchor="middle" fill="#2b2b2b">0.0</text>
<text x="498.92" y="84.20" font-size="6.3" text-anchor="middle" fill="#2b2b2b">0.042</text>
<text x="523.38" y="84.20" font-size="6.3" text-anchor="middle" fill="#2b2b2b">0.001</text>
<text x="547.83" y="84.20" font-size="6.3" text-anchor="middle" fill="#2b2b2b">0.048</text>
<text x="572.27" y="84.20" font-size="6.3" text-anchor="middle" fill="#2b2b2b">0.003</text>
<text x="596.73" y="84.20" font-size="6.3" text-anchor="middle" fill="#2b2b2b">0.002</text>
<text x="621.17" y="84.20" font-size="6.3" text-anchor="middle" fill="#2b2b2b">0.038</text>
<text x="645.62" y="84.20" font-size="6.3" text-anchor="middle" fill="#2b2b2b">0.008</text>
<text x="670.08" y="84.20" font-size="6.3" text-anchor="middle" fill="#2b2b2b">0.0</text>
<text x="376.68" y="100.74" font-size="6.3" text-anchor="middle" fill="#fff">0.765</text>
<text x="401.12" y="100.74" font-size="6.3" text-anchor="middle" fill="#2b2b2b">0.009</text>
<text x="425.57" y="100.74" font-size="6.3" text-anchor="middle" fill="#2b2b2b">0.001</text>
<text x="450.02" y="100.74" font-size="6.3" text-anchor="middle" fill="#fff">0.126</text>
<text x="474.47" y="100.74" font-size="6.3" text-anchor="middle" fill="#2b2b2b">0.025</text>
<text x="498.92" y="100.74" font-size="6.3" text-anchor="middle" fill="#2b2b2b">0.003</text>
<text x="523.38" y="100.74" font-size="6.3" text-anchor="middle" fill="#2b2b2b">0.001</text>
<text x="547.83" y="100.74" font-size="6.3" text-anchor="middle" fill="#2b2b2b">0.034</text>
<text x="572.27" y="100.74" font-size="6.3" text-anchor="middle" fill="#2b2b2b">0.002</text>
<text x="596.73" y="100.74" font-size="6.3" text-anchor="middle" fill="#2b2b2b">0.001</text>
<text x="621.17" y="100.74" font-size="6.3" text-anchor="middle" fill="#2b2b2b">0.026</text>
<text x="645.62" y="100.74" font-size="6.3" text-anchor="middle" fill="#2b2b2b">0.007</text>
<text x="670.08" y="100.74" font-size="6.3" text-anchor="middle" fill="#2b2b2b">0.0</text>
<text x="376.68" y="117.28" font-size="6.3" text-anchor="middle" fill="#fff">0.728</text>
<text x="401.12" y="117.28" font-size="6.3" text-anchor="middle" fill="#2b2b2b">0.0</text>
<text x="425.57" y="117.28" font-size="6.3" text-anchor="middle" fill="#2b2b2b">0.001</text>
<text x="450.02" y="117.28" font-size="6.3" text-anchor="middle" fill="#2b2b2b">0.04</text>
<text x="474.47" y="117.28" font-size="6.3" text-anchor="middle" fill="#2b2b2b">0.09</text>
<text x="498.92" y="117.28" font-size="6.3" text-anchor="middle" fill="#2b2b2b">0.003</text>
<text x="523.38" y="117.28" font-size="6.3" text-anchor="middle" fill="#2b2b2b">0.028</text>
<text x="547.83" y="117.28" font-size="6.3" text-anchor="middle" fill="#2b2b2b">0.042</text>
<text x="572.27" y="117.28" font-size="6.3" text-anchor="middle" fill="#2b2b2b">0.003</text>
<text x="596.73" y="117.28" font-size="6.3" text-anchor="middle" fill="#2b2b2b">0.002</text>
<text x="621.17" y="117.28" font-size="6.3" text-anchor="middle" fill="#2b2b2b">0.045</text>
<text x="645.62" y="117.28" font-size="6.3" text-anchor="middle" fill="#2b2b2b">0.017</text>
<text x="670.08" y="117.28" font-size="6.3" text-anchor="middle" fill="#2b2b2b">0.0</text>
<text x="376.68" y="133.82" font-size="6.3" text-anchor="middle" fill="#fff">0.732</text>
<text x="401.12" y="133.82" font-size="6.3" text-anchor="middle" fill="#2b2b2b">0.007</text>
<text x="425.57" y="133.82" font-size="6.3" text-anchor="middle" fill="#2b2b2b">0.033</text>
<text x="450.02" y="133.82" font-size="6.3" text-anchor="middle" fill="#2b2b2b">0.001</text>
<text x="474.47" y="133.82" font-size="6.3" text-anchor="middle" fill="#2b2b2b">0.001</text>
<text x="498.92" y="133.82" font-size="6.3" text-anchor="middle" fill="#2b2b2b">0.053</text>
<text x="523.38" y="133.82" font-size="6.3" text-anchor="middle" fill="#2b2b2b">0.006</text>
<text x="547.83" y="133.82" font-size="6.3" text-anchor="middle" fill="#2b2b2b">0.064</text>
<text x="572.27" y="133.82" font-size="6.3" text-anchor="middle" fill="#2b2b2b">0.005</text>
<text x="596.73" y="133.82" font-size="6.3" text-anchor="middle" fill="#2b2b2b">0.007</text>
<text x="621.17" y="133.82" font-size="6.3" text-anchor="middle" fill="#2b2b2b">0.068</text>
<text x="645.62" y="133.82" font-size="6.3" text-anchor="middle" fill="#2b2b2b">0.023</text>
<text x="670.08" y="133.82" font-size="6.3" text-anchor="middle" fill="#2b2b2b">0.0</text>
<text x="376.68" y="150.37" font-size="6.3" text-anchor="middle" fill="#fff">0.723</text>
<text x="401.12" y="150.37" font-size="6.3" text-anchor="middle" fill="#2b2b2b">0.0</text>
<text x="425.57" y="150.37" font-size="6.3" text-anchor="middle" fill="#2b2b2b">0.001</text>
<text x="450.02" y="150.37" font-size="6.3" text-anchor="middle" fill="#2b2b2b">0.002</text>
<text x="474.47" y="150.37" font-size="6.3" text-anchor="middle" fill="#2b2b2b">0.013</text>
<text x="498.92" y="150.37" font-size="6.3" text-anchor="middle" fill="#2b2b2b">0.013</text>
<text x="523.38" y="150.37" font-size="6.3" text-anchor="middle" fill="#2b2b2b">0.071</text>
<text x="547.83" y="150.37" font-size="6.3" text-anchor="middle" fill="#2b2b2b">0.053</text>
<text x="572.27" y="150.37" font-size="6.3" text-anchor="middle" fill="#2b2b2b">0.004</text>
<text x="596.73" y="150.37" font-size="6.3" text-anchor="middle" fill="#2b2b2b">0.009</text>
<text x="621.17" y="150.37" font-size="6.3" text-anchor="middle" fill="#2b2b2b">0.081</text>
<text x="645.62" y="150.37" font-size="6.3" text-anchor="middle" fill="#2b2b2b">0.028</text>
<text x="670.08" y="150.37" font-size="6.3" text-anchor="middle" fill="#2b2b2b">0.0</text>
<text x="376.68" y="166.91" font-size="6.3" text-anchor="middle" fill="#fff">0.655</text>
<text x="401.12" y="166.91" font-size="6.3" text-anchor="middle" fill="#2b2b2b">0.009</text>
<text x="425.57" y="166.91" font-size="6.3" text-anchor="middle" fill="#2b2b2b">0.014</text>
<text x="450.02" y="166.91" font-size="6.3" text-anchor="middle" fill="#2b2b2b">0.009</text>
<text x="474.47" y="166.91" font-size="6.3" text-anchor="middle" fill="#2b2b2b">0.005</text>
<text x="498.92" y="166.91" font-size="6.3" text-anchor="middle" fill="#2b2b2b">0.025</text>
<text x="523.38" y="166.91" font-size="6.3" text-anchor="middle" fill="#2b2b2b">0.012</text>
<text x="547.83" y="166.91" font-size="6.3" text-anchor="middle" fill="#fff">0.139</text>
<text x="572.27" y="166.91" font-size="6.3" text-anchor="middle" fill="#2b2b2b">0.028</text>
<text x="596.73" y="166.91" font-size="6.3" text-anchor="middle" fill="#2b2b2b">0.013</text>
<text x="621.17" y="166.91" font-size="6.3" text-anchor="middle" fill="#2b2b2b">0.07</text>
<text x="645.62" y="166.91" font-size="6.3" text-anchor="middle" fill="#2b2b2b">0.022</text>
<text x="670.08" y="166.91" font-size="6.3" text-anchor="middle" fill="#2b2b2b">0.0</text>
<text x="376.68" y="183.44" font-size="6.3" text-anchor="middle" fill="#fff">0.454</text>
<text x="401.12" y="183.44" font-size="6.3" text-anchor="middle" fill="#2b2b2b">0.003</text>
<text x="425.57" y="183.44" font-size="6.3" text-anchor="middle" fill="#2b2b2b">0.007</text>
<text x="450.02" y="183.44" font-size="6.3" text-anchor="middle" fill="#2b2b2b">0.004</text>
<text x="474.47" y="183.44" font-size="6.3" text-anchor="middle" fill="#2b2b2b">0.003</text>
<text x="498.92" y="183.44" font-size="6.3" text-anchor="middle" fill="#2b2b2b">0.018</text>
<text x="523.38" y="183.44" font-size="6.3" text-anchor="middle" fill="#2b2b2b">0.013</text>
<text x="547.83" y="183.44" font-size="6.3" text-anchor="middle" fill="#fff">0.26</text>
<text x="572.27" y="183.44" font-size="6.3" text-anchor="middle" fill="#fff">0.124</text>
<text x="596.73" y="183.44" font-size="6.3" text-anchor="middle" fill="#2b2b2b">0.026</text>
<text x="621.17" y="183.44" font-size="6.3" text-anchor="middle" fill="#2b2b2b">0.064</text>
<text x="645.62" y="183.44" font-size="6.3" text-anchor="middle" fill="#2b2b2b">0.023</text>
<text x="670.08" y="183.44" font-size="6.3" text-anchor="middle" fill="#2b2b2b">0.003</text>
<text x="376.68" y="199.99" font-size="6.3" text-anchor="middle" fill="#fff">0.431</text>
<text x="401.12" y="199.99" font-size="6.3" text-anchor="middle" fill="#2b2b2b">0.002</text>
<text x="425.57" y="199.99" font-size="6.3" text-anchor="middle" fill="#2b2b2b">0.004</text>
<text x="450.02" y="199.99" font-size="6.3" text-anchor="middle" fill="#2b2b2b">0.002</text>
<text x="474.47" y="199.99" font-size="6.3" text-anchor="middle" fill="#2b2b2b">0.003</text>
<text x="498.92" y="199.99" font-size="6.3" text-anchor="middle" fill="#2b2b2b">0.025</text>
<text x="523.38" y="199.99" font-size="6.3" text-anchor="middle" fill="#2b2b2b">0.014</text>
<text x="547.83" y="199.99" font-size="6.3" text-anchor="middle" fill="#2b2b2b">0.09</text>
<text x="572.27" y="199.99" font-size="6.3" text-anchor="middle" fill="#2b2b2b">0.016</text>
<text x="596.73" y="199.99" font-size="6.3" text-anchor="middle" fill="#2b2b2b">0.107</text>
<text x="621.17" y="199.99" font-size="6.3" text-anchor="middle" fill="#fff">0.204</text>
<text x="645.62" y="199.99" font-size="6.3" text-anchor="middle" fill="#2b2b2b">0.101</text>
<text x="670.08" y="199.99" font-size="6.3" text-anchor="middle" fill="#2b2b2b">0.0</text>
<text x="376.68" y="216.52" font-size="6.3" text-anchor="middle" fill="#fff">0.645</text>
<text x="401.12" y="216.52" font-size="6.3" text-anchor="middle" fill="#2b2b2b">0.005</text>
<text x="425.57" y="216.52" font-size="6.3" text-anchor="middle" fill="#2b2b2b">0.011</text>
<text x="450.02" y="216.52" font-size="6.3" text-anchor="middle" fill="#2b2b2b">0.006</text>
<text x="474.47" y="216.52" font-size="6.3" text-anchor="middle" fill="#2b2b2b">0.006</text>
<text x="498.92" y="216.52" font-size="6.3" text-anchor="middle" fill="#2b2b2b">0.029</text>
<text x="523.38" y="216.52" font-size="6.3" text-anchor="middle" fill="#2b2b2b">0.017</text>
<text x="547.83" y="216.52" font-size="6.3" text-anchor="middle" fill="#2b2b2b">0.066</text>
<text x="572.27" y="216.52" font-size="6.3" text-anchor="middle" fill="#2b2b2b">0.006</text>
<text x="596.73" y="216.52" font-size="6.3" text-anchor="middle" fill="#2b2b2b">0.025</text>
<text x="621.17" y="216.52" font-size="6.3" text-anchor="middle" fill="#fff">0.144</text>
<text x="645.62" y="216.52" font-size="6.3" text-anchor="middle" fill="#2b2b2b">0.041</text>
<text x="670.08" y="216.52" font-size="6.3" text-anchor="middle" fill="#2b2b2b">0.0</text>
<text x="376.68" y="233.06" font-size="6.3" text-anchor="middle" fill="#fff">0.62</text>
<text x="401.12" y="233.06" font-size="6.3" text-anchor="middle" fill="#2b2b2b">0.004</text>
<text x="425.57" y="233.06" font-size="6.3" text-anchor="middle" fill="#2b2b2b">0.008</text>
<text x="450.02" y="233.06" font-size="6.3" text-anchor="middle" fill="#2b2b2b">0.004</text>
<text x="474.47" y="233.06" font-size="6.3" text-anchor="middle" fill="#2b2b2b">0.005</text>
<text x="498.92" y="233.06" font-size="6.3" text-anchor="middle" fill="#2b2b2b">0.029</text>
<text x="523.38" y="233.06" font-size="6.3" text-anchor="middle" fill="#2b2b2b">0.017</text>
<text x="547.83" y="233.06" font-size="6.3" text-anchor="middle" fill="#2b2b2b">0.066</text>
<text x="572.27" y="233.06" font-size="6.3" text-anchor="middle" fill="#2b2b2b">0.006</text>
<text x="596.73" y="233.06" font-size="6.3" text-anchor="middle" fill="#2b2b2b">0.04</text>
<text x="621.17" y="233.06" font-size="6.3" text-anchor="middle" fill="#fff">0.125</text>
<text x="645.62" y="233.06" font-size="6.3" text-anchor="middle" fill="#2b2b2b">0.076</text>
<text x="670.08" y="233.06" font-size="6.3" text-anchor="middle" fill="#2b2b2b">0.0</text>
<text x="376.68" y="249.61" font-size="6.3" text-anchor="middle" fill="#2b2b2b">0.095</text>
<text x="401.12" y="249.61" font-size="6.3" text-anchor="middle" fill="#2b2b2b">0.0</text>
<text x="425.57" y="249.61" font-size="6.3" text-anchor="middle" fill="#2b2b2b">0.0</text>
<text x="450.02" y="249.61" font-size="6.3" text-anchor="middle" fill="#2b2b2b">0.0</text>
<text x="474.47" y="249.61" font-size="6.3" text-anchor="middle" fill="#2b2b2b">0.0</text>
<text x="498.92" y="249.61" font-size="6.3" text-anchor="middle" fill="#2b2b2b">0.0</text>
<text x="523.38" y="249.61" font-size="6.3" text-anchor="middle" fill="#2b2b2b">0.0</text>
<text x="547.83" y="249.61" font-size="6.3" text-anchor="middle" fill="#fff">0.19</text>
<text x="572.27" y="249.61" font-size="6.3" text-anchor="middle" fill="#fff">0.238</text>
<text x="596.73" y="249.61" font-size="6.3" text-anchor="middle" fill="#2b2b2b">0.0</text>
<text x="621.17" y="249.61" font-size="6.3" text-anchor="middle" fill="#2b2b2b">0.024</text>
<text x="645.62" y="249.61" font-size="6.3" text-anchor="middle" fill="#2b2b2b">0.0</text>
<text x="670.08" y="249.61" font-size="6.3" text-anchor="middle" fill="#fff">0.452</text>
<text transform="translate(376.68,39.18) scale(0.92,1)" font-size="6.8" text-anchor="middle" fill="#2a3f5f">0</text>
<text transform="translate(363.85,51.32) scale(0.9,1)" font-size="7.0" text-anchor="end" fill="#2a3f5f">0</text>
<text transform="translate(401.12,39.18) scale(0.92,1)" font-size="6.8" text-anchor="middle" fill="#2a3f5f">0-B</text>
<text transform="translate(363.85,67.86) scale(0.9,1)" font-size="7.0" text-anchor="end" fill="#2a3f5f">0-B</text>
<text transform="translate(425.57,39.18) scale(0.92,1)" font-size="6.8" text-anchor="middle" fill="#2a3f5f">0-A</text>
<text transform="translate(363.85,84.40) scale(0.9,1)" font-size="7.0" text-anchor="end" fill="#2a3f5f">0-A</text>
<text transform="translate(450.02,39.18) scale(0.92,1)" font-size="6.8" text-anchor="middle" fill="#2a3f5f">0-C</text>
<text transform="translate(363.85,100.94) scale(0.9,1)" font-size="7.0" text-anchor="end" fill="#2a3f5f">0-C</text>
<text transform="translate(474.47,39.18) scale(0.92,1)" font-size="6.8" text-anchor="middle" fill="#2a3f5f">0-D</text>
<text transform="translate(363.85,117.48) scale(0.9,1)" font-size="7.0" text-anchor="end" fill="#2a3f5f">0-D</text>
<text transform="translate(498.92,39.18) scale(0.92,1)" font-size="6.8" text-anchor="middle" fill="#2a3f5f">0-F</text>
<text transform="translate(363.85,134.02) scale(0.9,1)" font-size="7.0" text-anchor="end" fill="#2a3f5f">0-F</text>
<text transform="translate(523.38,39.18) scale(0.92,1)" font-size="6.8" text-anchor="middle" fill="#2a3f5f">0-E</text>
<text transform="translate(363.85,150.56) scale(0.9,1)" font-size="7.0" text-anchor="end" fill="#2a3f5f">0-E</text>
<text transform="translate(547.83,39.18) scale(0.92,1)" font-size="6.8" text-anchor="middle" fill="#2a3f5f">1-a</text>
<text transform="translate(363.85,167.10) scale(0.9,1)" font-size="7.0" text-anchor="end" fill="#2a3f5f">1-a</text>
<text transform="translate(572.27,39.18) scale(0.92,1)" font-size="6.8" text-anchor="middle" fill="#2a3f5f">1-b</text>
<text transform="translate(363.85,183.64) scale(0.9,1)" font-size="7.0" text-anchor="end" fill="#2a3f5f">1-b</text>
<text transform="translate(596.73,39.18) scale(0.92,1)" font-size="6.8" text-anchor="middle" fill="#2a3f5f">1-c</text>
<text transform="translate(363.85,200.18) scale(0.9,1)" font-size="7.0" text-anchor="end" fill="#2a3f5f">1-c</text>
<text transform="translate(621.17,39.18) scale(0.92,1)" font-size="6.8" text-anchor="middle" fill="#2a3f5f">2</text>
<text transform="translate(363.85,216.72) scale(0.9,1)" font-size="7.0" text-anchor="end" fill="#2a3f5f">2</text>
<text transform="translate(645.62,39.18) scale(0.92,1)" font-size="6.8" text-anchor="middle" fill="#2a3f5f">3</text>
<text transform="translate(363.85,233.26) scale(0.9,1)" font-size="7.0" text-anchor="end" fill="#2a3f5f">3</text>
<text transform="translate(670.08,39.18) scale(0.92,1)" font-size="6.8" text-anchor="middle" fill="#2a3f5f">4</text>
<text transform="translate(363.85,249.80) scale(0.9,1)" font-size="7.0" text-anchor="end" fill="#2a3f5f">4</text>
<text x="535.80" y="26.82" font-size="9.2" text-anchor="middle" fill="#000">End Subcluster</text>
<text x="0" y="0" font-size="9.25" text-anchor="middle" fill="#000" transform="translate(349.90,148.50) rotate(-90)">Start Subcluster</text>
</g>
<rect x="487.8" y="123.4" width="192.9" height="131.9" fill="none" stroke="#5c5c5c" stroke-width="1.8"/>
<rect x="519.5" y="255" width="162" height="23" fill="#5f5f5f"/>
<text x="679.70" y="270.37" font-size="10.2" text-anchor="end" fill="#fff">8 Insomnia-like sleep phenotypes</text>
<path d="M331.1 40.2H339.1M335.2 40.2V54.4M331.1 54.4H339.1" stroke="#000" stroke-width="2" fill="none"/>
<text x="328.40" y="45.20" font-size="10" text-anchor="end" fill="#000">Recommended</text>
<text x="328.40" y="55.70" font-size="10" text-anchor="end" fill="#000">Sleep</text>
<path d="M331.1 126.8H339.1M335.2 126.8V152.1M331.1 152.1H339.1" stroke="#000" stroke-width="2" fill="none"/>
<text x="328.60" y="129.00" font-size="10" text-anchor="end" fill="#000">Low</text>
<text x="328.60" y="140.20" font-size="10" text-anchor="end" fill="#000">Efficiency</text>
<text x="328.60" y="150.70" font-size="10" text-anchor="end" fill="#000">Sleep</text>
<path d="M331.1 156.7H339.1M335.2 156.7V186.2M331.1 186.2H339.1" stroke="#000" stroke-width="2" fill="none"/>
<text x="330.60" y="164.50" font-size="10" text-anchor="end" fill="#000">Fractured,</text>
<text x="330.60" y="175.00" font-size="10" text-anchor="end" fill="#000">Short</text>
<text x="330.60" y="185.90" font-size="10" text-anchor="end" fill="#000">Sleep</text>
<path d="M331.1 189.0H339.1M335.2 189.0V236.8M331.1 236.8H339.1" stroke="#000" stroke-width="2" fill="none"/>
<text x="331.20" y="203.20" font-size="10" text-anchor="end" fill="#000">Fractured,</text>
<text x="331.20" y="214.40" font-size="10" text-anchor="end" fill="#000">Long</text>
<text x="331.20" y="224.60" font-size="10" text-anchor="end" fill="#000">Sleep</text>
<path d="M331.1 240.4H339.1M335.2 240.4V252.6M331.1 252.6H339.1" stroke="#000" stroke-width="2" fill="none"/>
<text x="329.70" y="244.60" font-size="10" text-anchor="end" fill="#000">Very Short</text>
<text x="329.30" y="255.10" font-size="10" text-anchor="end" fill="#000">Sleep</text>
<g>
<rect x="20.95" y="324.00" width="24.85" height="17.19" fill="#5e055b"/>
<rect x="44.80" y="324.00" width="24.85" height="17.19" fill="#cbdceb"/>
<rect x="68.65" y="324.00" width="24.85" height="17.19" fill="#c0d4e6"/>
<rect x="92.50" y="324.00" width="24.85" height="17.19" fill="#d4e3ef"/>
<rect x="116.35" y="324.00" width="24.85" height="17.19" fill="#deebf3"/>
<rect x="140.20" y="324.00" width="24.85" height="17.19" fill="#b4cce2"/>
<rect x="164.05" y="324.00" width="24.85" height="17.19" fill="#c6d8e9"/>
<rect x="187.90" y="324.00" width="24.85" height="17.19" fill="#9ab4d6"/>
<rect x="211.75" y="324.00" width="24.85" height="17.19" fill="#d0e0ed"/>
<rect x="235.60" y="324.00" width="24.85" height="17.19" fill="#cddeec"/>
<rect x="259.45" y="324.00" width="24.85" height="17.19" fill="#99b2d5"/>
<rect x="283.30" y="324.00" width="24.85" height="17.19" fill="#bacfe4"/>
<rect x="307.15" y="324.00" width="23.85" height="17.19" fill="#f7fcfd"/>
<rect x="20.95" y="340.19" width="24.85" height="17.19" fill="#4d004b"/>
<rect x="44.80" y="340.19" width="24.85" height="17.19" fill="#9ebbda"/>
<rect x="68.65" y="340.19" width="24.85" height="17.19" fill="#f7fcfd"/>
<rect x="92.50" y="340.19" width="24.85" height="17.19" fill="#c5d7e8"/>
<rect x="116.35" y="340.19" width="24.85" height="17.19" fill="#f7fcfd"/>
<rect x="140.20" y="340.19" width="24.85" height="17.19" fill="#d2e1ee"/>
<rect x="164.05" y="340.19" width="24.85" height="17.19" fill="#f7fcfd"/>
<rect x="187.90" y="340.19" width="24.85" height="17.19" fill="#a2bfdb"/>
<rect x="211.75" y="340.19" width="24.85" height="17.19" fill="#f7fcfd"/>
<rect x="235.60" y="340.19" width="24.85" height="17.19" fill="#f7fcfd"/>
<rect x="259.45" y="340.19" width="24.85" height="17.19" fill="#b3cbe2"/>
<rect x="283.30" y="340.19" width="24.85" height="17.19" fill="#d2e1ee"/>
<rect x="307.15" y="340.19" width="23.85" height="17.19" fill="#f7fcfd"/>
<rect x="20.95" y="356.38" width="24.85" height="17.19" fill="#690866"/>
<rect x="44.80" y="356.38" width="24.85" height="17.19" fill="#b8cee3"/>
<rect x="68.65" y="356.38" width="24.85" height="17.19" fill="#97add2"/>
<rect x="92.50" y="356.38" width="24.85" height="17.19" fill="#f7fcfd"/>
<rect x="116.35" y="356.38" width="24.85" height="17.19" fill="#f7fcfd"/>
<rect x="140.20" y="356.38" width="24.85" height="17.19" fill="#acc6df"/>
<rect x="164.05" y="356.38" width="24.85" height="17.19" fill="#f7fcfd"/>
<rect x="187.90" y="356.38" width="24.85" height="17.19" fill="#97add2"/>
<rect x="211.75" y="356.38" width="24.85" height="17.19" fill="#d4e3ef"/>
<rect x="235.60" y="356.38" width="24.85" height="17.19" fill="#c8daea"/>
<rect x="259.45" y="356.38" width="24.85" height="17.19" fill="#9cb8d8"/>
<rect x="283.30" y="356.38" width="24.85" height="17.19" fill="#bfd3e6"/>
<rect x="307.15" y="356.38" width="23.85" height="17.19" fill="#f7fcfd"/>
<rect x="20.95" y="372.57" width="24.85" height="17.19" fill="#640761"/>
<rect x="44.80" y="372.57" width="24.85" height="17.19" fill="#f7fcfd"/>
<rect x="68.65" y="372.57" width="24.85" height="17.19" fill="#bacfe4"/>
<rect x="92.50" y="372.57" width="24.85" height="17.19" fill="#8c88bf"/>
<rect x="116.35" y="372.57" width="24.85" height="17.19" fill="#94a8cf"/>
<rect x="140.20" y="372.57" width="24.85" height="17.19" fill="#f7fcfd"/>
<rect x="164.05" y="372.57" width="24.85" height="17.19" fill="#f7fcfd"/>
<rect x="187.90" y="372.57" width="24.85" height="17.19" fill="#f7fcfd"/>
<rect x="211.75" y="372.57" width="24.85" height="17.19" fill="#f7fcfd"/>
<rect x="235.60" y="372.57" width="24.85" height="17.19" fill="#f7fcfd"/>
<rect x="259.45" y="372.57" width="24.85" height="17.19" fill="#bacfe4"/>
<rect x="283.30" y="372.57" width="24.85" height="17.19" fill="#f7fcfd"/>
<rect x="307.15" y="372.57" width="23.85" height="17.19" fill="#f7fcfd"/>
<rect x="20.95" y="388.76" width="24.85" height="17.19" fill="#800f7b"/>
<rect x="44.80" y="388.76" width="24.85" height="17.19" fill="#f7fcfd"/>
<rect x="68.65" y="388.76" width="24.85" height="17.19" fill="#f7fcfd"/>
<rect x="92.50" y="388.76" width="24.85" height="17.19" fill="#bbd0e5"/>
<rect x="116.35" y="388.76" width="24.85" height="17.19" fill="#95aad0"/>
<rect x="140.20" y="388.76" width="24.85" height="17.19" fill="#bbd0e5"/>
<rect x="164.05" y="388.76" width="24.85" height="17.19" fill="#95aad0"/>
<rect x="187.90" y="388.76" width="24.85" height="17.19" fill="#a7c2dd"/>
<rect x="211.75" y="388.76" width="24.85" height="17.19" fill="#f7fcfd"/>
<rect x="235.60" y="388.76" width="24.85" height="17.19" fill="#f7fcfd"/>
<rect x="259.45" y="388.76" width="24.85" height="17.19" fill="#8c95c5"/>
<rect x="283.30" y="388.76" width="24.85" height="17.19" fill="#a7c2dd"/>
<rect x="307.15" y="388.76" width="23.85" height="17.19" fill="#f7fcfd"/>
<rect x="20.95" y="404.95" width="24.85" height="17.19" fill="#5e055b"/>
<rect x="44.80" y="404.95" width="24.85" height="17.19" fill="#deebf3"/>
<rect x="68.65" y="404.95" width="24.85" height="17.19" fill="#c2d5e7"/>
<rect x="92.50" y="404.95" width="24.85" height="17.19" fill="#f7fcfd"/>
<rect x="116.35" y="404.95" width="24.85" height="17.19" fill="#f7fcfd"/>
<rect x="140.20" y="404.95" width="24.85" height="17.19" fill="#a5c1dd"/>
<rect x="164.05" y="404.95" width="24.85" height="17.19" fill="#d0e0ed"/>
<rect x="187.90" y="404.95" width="24.85" height="17.19" fill="#9ab4d6"/>
<rect x="211.75" y="404.95" width="24.85" height="17.19" fill="#d0e0ed"/>
<rect x="235.60" y="404.95" width="24.85" height="17.19" fill="#bbd0e5"/>
<rect x="259.45" y="404.95" width="24.85" height="17.19" fill="#9ab4d6"/>
<rect x="283.30" y="404.95" width="24.85" height="17.19" fill="#bbd0e5"/>
<rect x="307.15" y="404.95" width="23.85" height="17.19" fill="#f7fcfd"/>
<rect x="20.95" y="421.14" width="24.85" height="17.19" fill="#780c74"/>
<rect x="44.80" y="421.14" width="24.85" height="17.19" fill="#f7fcfd"/>
<rect x="68.65" y="421.14" width="24.85" height="17.19" fill="#f7fcfd"/>
<rect x="92.50" y="421.14" width="24.85" height="17.19" fill="#deebf3"/>
<rect x="116.35" y="421.14" width="24.85" height="17.19" fill="#cbdceb"/>
<rect x="140.20" y="421.14" width="24.85" height="17.19" fill="#afc8e0"/>
<rect x="164.05" y="421.14" width="24.85" height="17.19" fill="#94a6ce"/>
<rect x="187.90" y="421.14" width="24.85" height="17.19" fill="#95a9d0"/>
<rect x="211.75" y="421.14" width="24.85" height="17.19" fill="#c6d8e9"/>
<rect x="235.60" y="421.14" width="24.85" height="17.19" fill="#b4cce2"/>
<rect x="259.45" y="421.14" width="24.85" height="17.19" fill="#93a4cd"/>
<rect x="283.30" y="421.14" width="24.85" height="17.19" fill="#b4cce2"/>
<rect x="307.15" y="421.14" width="23.85" height="17.19" fill="#f7fcfd"/>
<rect x="20.95" y="437.33" width="24.85" height="17.19" fill="#831a84"/>
<rect x="44.80" y="437.33" width="24.85" height="17.19" fill="#d4e3ef"/>
<rect x="68.65" y="437.33" width="24.85" height="17.19" fill="#c2d5e7"/>
<rect x="92.50" y="437.33" width="24.85" height="17.19" fill="#e7f1f7"/>
<rect x="116.35" y="437.33" width="24.85" height="17.19" fill="#e2edf5"/>
<rect x="140.20" y="437.33" width="24.85" height="17.19" fill="#b0c9e1"/>
<rect x="164.05" y="437.33" width="24.85" height="17.19" fill="#c2d5e7"/>
<rect x="187.90" y="437.33" width="24.85" height="17.19" fill="#8c79b8"/>
<rect x="211.75" y="437.33" width="24.85" height="17.19" fill="#9cb8d8"/>
<rect x="235.60" y="437.33" width="24.85" height="17.19" fill="#b5cce3"/>
<rect x="259.45" y="437.33" width="24.85" height="17.19" fill="#92a3cd"/>
<rect x="283.30" y="437.33" width="24.85" height="17.19" fill="#b0c9e1"/>
<rect x="307.15" y="437.33" width="23.85" height="17.19" fill="#f7fcfd"/>
<rect x="20.95" y="453.52" width="24.85" height="17.19" fill="#8a5aa9"/>
<rect x="44.80" y="453.52" width="24.85" height="17.19" fill="#f7fcfd"/>
<rect x="68.65" y="453.52" width="24.85" height="17.19" fill="#dae8f2"/>
<rect x="92.50" y="453.52" width="24.85" height="17.19" fill="#dae8f2"/>
<rect x="116.35" y="453.52" width="24.85" height="17.19" fill="#dae8f2"/>
<rect x="140.20" y="453.52" width="24.85" height="17.19" fill="#bbd0e5"/>
<rect x="164.05" y="453.52" width="24.85" height="17.19" fill="#c8daea"/>
<rect x="187.90" y="453.52" width="24.85" height="17.19" fill="#8a55a7"/>
<rect x="211.75" y="453.52" width="24.85" height="17.19" fill="#8c68af"/>
<rect x="235.60" y="453.52" width="24.85" height="17.19" fill="#afc8e0"/>
<rect x="259.45" y="453.52" width="24.85" height="17.19" fill="#9fbcda"/>
<rect x="283.30" y="453.52" width="24.85" height="17.19" fill="#aac5de"/>
<rect x="307.15" y="453.52" width="23.85" height="17.19" fill="#d0e0ed"/>
<rect x="20.95" y="469.71" width="24.85" height="17.19" fill="#88449e"/>
<rect x="44.80" y="469.71" width="24.85" height="17.19" fill="#f7fcfd"/>
<rect x="68.65" y="469.71" width="24.85" height="17.19" fill="#dae8f2"/>
<rect x="92.50" y="469.71" width="24.85" height="17.19" fill="#f7fcfd"/>
<rect x="116.35" y="469.71" width="24.85" height="17.19" fill="#dae8f2"/>
<rect x="140.20" y="469.71" width="24.85" height="17.19" fill="#a8c3de"/>
<rect x="164.05" y="469.71" width="24.85" height="17.19" fill="#d0e0ed"/>
<rect x="187.90" y="469.71" width="24.85" height="17.19" fill="#8e9ac8"/>
<rect x="211.75" y="469.71" width="24.85" height="17.19" fill="#c8daea"/>
<rect x="235.60" y="469.71" width="24.85" height="17.19" fill="#97add2"/>
<rect x="259.45" y="469.71" width="24.85" height="17.19" fill="#8b62ac"/>
<rect x="283.30" y="469.71" width="24.85" height="17.19" fill="#8e9ac8"/>
<rect x="307.15" y="469.71" width="23.85" height="17.19" fill="#f7fcfd"/>
<rect x="20.95" y="485.90" width="24.85" height="17.19" fill="#81107c"/>
<rect x="44.80" y="485.90" width="24.85" height="17.19" fill="#dae8f2"/>
<rect x="68.65" y="485.90" width="24.85" height="17.19" fill="#d4e3ef"/>
<rect x="92.50" y="485.90" width="24.85" height="17.19" fill="#e2edf5"/>
<rect x="116.35" y="485.90" width="24.85" height="17.19" fill="#d2e1ee"/>
<rect x="140.20" y="485.90" width="24.85" height="17.19" fill="#adc6df"/>
<rect x="164.05" y="485.90" width="24.85" height="17.19" fill="#bacfe4"/>
<rect x="187.90" y="485.90" width="24.85" height="17.19" fill="#95a8d0"/>
<rect x="211.75" y="485.90" width="24.85" height="17.19" fill="#cbdceb"/>
<rect x="235.60" y="485.90" width="24.85" height="17.19" fill="#afc8e0"/>
<rect x="259.45" y="485.90" width="24.85" height="17.19" fill="#8c80bb"/>
<rect x="283.30" y="485.90" width="24.85" height="17.19" fill="#a2bfdb"/>
<rect x="307.15" y="485.90" width="23.85" height="17.19" fill="#f7fcfd"/>
<rect x="20.95" y="502.09" width="24.85" height="17.19" fill="#821882"/>
<rect x="44.80" y="502.09" width="24.85" height="17.19" fill="#d4e3ef"/>
<rect x="68.65" y="502.09" width="24.85" height="17.19" fill="#d4e3ef"/>
<rect x="92.50" y="502.09" width="24.85" height="17.19" fill="#f7fcfd"/>
<rect x="116.35" y="502.09" width="24.85" height="17.19" fill="#cadbea"/>
<rect x="140.20" y="502.09" width="24.85" height="17.19" fill="#bdd2e5"/>
<rect x="164.05" y="502.09" width="24.85" height="17.19" fill="#cddeec"/>
<rect x="187.90" y="502.09" width="24.85" height="17.19" fill="#95a9d0"/>
<rect x="211.75" y="502.09" width="24.85" height="17.19" fill="#cadbea"/>
<rect x="235.60" y="502.09" width="24.85" height="17.19" fill="#a0bddb"/>
<rect x="259.45" y="502.09" width="24.85" height="17.19" fill="#8c82bc"/>
<rect x="283.30" y="502.09" width="24.85" height="17.19" fill="#92a2cc"/>
<rect x="307.15" y="502.09" width="23.85" height="17.19" fill="#f7fcfd"/>
<rect x="20.95" y="518.28" width="24.85" height="16.19" fill="#f7fcfd"/>
<rect x="44.80" y="518.28" width="24.85" height="16.19" fill="#f7fcfd"/>
<rect x="68.65" y="518.28" width="24.85" height="16.19" fill="#f7fcfd"/>
<rect x="92.50" y="518.28" width="24.85" height="16.19" fill="#f7fcfd"/>
<rect x="116.35" y="518.28" width="24.85" height="16.19" fill="#f7fcfd"/>
<rect x="140.20" y="518.28" width="24.85" height="16.19" fill="#f7fcfd"/>
<rect x="164.05" y="518.28" width="24.85" height="16.19" fill="#f7fcfd"/>
<rect x="187.90" y="518.28" width="24.85" height="16.19" fill="#f7fcfd"/>
<rect x="211.75" y="518.28" width="24.85" height="16.19" fill="#f7fcfd"/>
<rect x="235.60" y="518.28" width="24.85" height="16.19" fill="#f7fcfd"/>
<rect x="259.45" y="518.28" width="24.85" height="16.19" fill="#f7fcfd"/>
<rect x="283.30" y="518.28" width="24.85" height="16.19" fill="#f7fcfd"/>
<rect x="307.15" y="518.28" width="23.85" height="16.19" fill="#f7fcfd"/>
<text x="32.88" y="334.65" font-size="6.3" text-anchor="middle" fill="#fff">0.749</text>
<text x="56.73" y="334.65" font-size="6.3" text-anchor="middle" fill="#2b2b2b">0.01</text>
<text x="80.58" y="334.65" font-size="6.3" text-anchor="middle" fill="#2b2b2b">0.017</text>
<text x="104.43" y="334.65" font-size="6.3" text-anchor="middle" fill="#2b2b2b">0.006</text>
<text x="128.28" y="334.65" font-size="6.3" text-anchor="middle" fill="#2b2b2b">0.003</text>
<text x="152.12" y="334.65" font-size="6.3" text-anchor="middle" fill="#2b2b2b">0.027</text>
<text x="175.97" y="334.65" font-size="6.3" text-anchor="middle" fill="#2b2b2b">0.013</text>
<text x="199.82" y="334.65" font-size="6.3" text-anchor="middle" fill="#2b2b2b">0.067</text>
<text x="223.68" y="334.65" font-size="6.3" text-anchor="middle" fill="#2b2b2b">0.008</text>
<text x="247.53" y="334.65" font-size="6.3" text-anchor="middle" fill="#2b2b2b">0.009</text>
<text x="271.38" y="334.65" font-size="6.3" text-anchor="middle" fill="#2b2b2b">0.07</text>
<text x="295.23" y="334.65" font-size="6.3" text-anchor="middle" fill="#2b2b2b">0.022</text>
<text x="319.07" y="334.65" font-size="6.3" text-anchor="middle" fill="#2b2b2b">0.0</text>
<text x="32.88" y="350.84" font-size="6.3" text-anchor="middle" fill="#fff">0.839</text>
<text x="56.73" y="350.84" font-size="6.3" text-anchor="middle" fill="#2b2b2b">0.056</text>
<text x="80.58" y="350.84" font-size="6.3" text-anchor="middle" fill="#2b2b2b">0.0</text>
<text x="104.43" y="350.84" font-size="6.3" text-anchor="middle" fill="#2b2b2b">0.014</text>
<text x="128.28" y="350.84" font-size="6.3" text-anchor="middle" fill="#2b2b2b">0.0</text>
<text x="152.12" y="350.84" font-size="6.3" text-anchor="middle" fill="#2b2b2b">0.007</text>
<text x="175.97" y="350.84" font-size="6.3" text-anchor="middle" fill="#2b2b2b">0.0</text>
<text x="199.82" y="350.84" font-size="6.3" text-anchor="middle" fill="#2b2b2b">0.049</text>
<text x="223.68" y="350.84" font-size="6.3" text-anchor="middle" fill="#2b2b2b">0.0</text>
<text x="247.53" y="350.84" font-size="6.3" text-anchor="middle" fill="#2b2b2b">0.0</text>
<text x="271.38" y="350.84" font-size="6.3" text-anchor="middle" fill="#2b2b2b">0.028</text>
<text x="295.23" y="350.84" font-size="6.3" text-anchor="middle" fill="#2b2b2b">0.007</text>
<text x="319.07" y="350.84" font-size="6.3" text-anchor="middle" fill="#2b2b2b">0.0</text>
<text x="32.88" y="367.03" font-size="6.3" text-anchor="middle" fill="#fff">0.69</text>
<text x="56.73" y="367.03" font-size="6.3" text-anchor="middle" fill="#2b2b2b">0.024</text>
<text x="80.58" y="367.03" font-size="6.3" text-anchor="middle" fill="#2b2b2b">0.077</text>
<text x="104.43" y="367.03" font-size="6.3" text-anchor="middle" fill="#2b2b2b">0.0</text>
<text x="128.28" y="367.03" font-size="6.3" text-anchor="middle" fill="#2b2b2b">0.0</text>
<text x="152.12" y="367.03" font-size="6.3" text-anchor="middle" fill="#2b2b2b">0.036</text>
<text x="175.97" y="367.03" font-size="6.3" text-anchor="middle" fill="#2b2b2b">0.0</text>
<text x="199.82" y="367.03" font-size="6.3" text-anchor="middle" fill="#2b2b2b">0.077</text>
<text x="223.68" y="367.03" font-size="6.3" text-anchor="middle" fill="#2b2b2b">0.006</text>
<text x="247.53" y="367.03" font-size="6.3" text-anchor="middle" fill="#2b2b2b">0.012</text>
<text x="271.38" y="367.03" font-size="6.3" text-anchor="middle" fill="#2b2b2b">0.06</text>
<text x="295.23" y="367.03" font-size="6.3" text-anchor="middle" fill="#2b2b2b">0.018</text>
<text x="319.07" y="367.03" font-size="6.3" text-anchor="middle" fill="#2b2b2b">0.0</text>
<text x="32.88" y="383.22" font-size="6.3" text-anchor="middle" fill="#fff">0.717</text>
<text x="56.73" y="383.22" font-size="6.3" text-anchor="middle" fill="#2b2b2b">0.0</text>
<text x="80.58" y="383.22" font-size="6.3" text-anchor="middle" fill="#2b2b2b">0.022</text>
<text x="104.43" y="383.22" font-size="6.3" text-anchor="middle" fill="#fff">0.152</text>
<text x="128.28" y="383.22" font-size="6.3" text-anchor="middle" fill="#2b2b2b">0.087</text>
<text x="152.12" y="383.22" font-size="6.3" text-anchor="middle" fill="#2b2b2b">0.0</text>
<text x="175.97" y="383.22" font-size="6.3" text-anchor="middle" fill="#2b2b2b">0.0</text>
<text x="199.82" y="383.22" font-size="6.3" text-anchor="middle" fill="#2b2b2b">0.0</text>
<text x="223.68" y="383.22" font-size="6.3" text-anchor="middle" fill="#2b2b2b">0.0</text>
<text x="247.53" y="383.22" font-size="6.3" text-anchor="middle" fill="#2b2b2b">0.0</text>
<text x="271.38" y="383.22" font-size="6.3" text-anchor="middle" fill="#2b2b2b">0.022</text>
<text x="295.23" y="383.22" font-size="6.3" text-anchor="middle" fill="#2b2b2b">0.0</text>
<text x="319.07" y="383.22" font-size="6.3" text-anchor="middle" fill="#2b2b2b">0.0</text>
<text x="32.88" y="399.41" font-size="6.3" text-anchor="middle" fill="#fff">0.583</text>
<text x="56.73" y="399.41" font-size="6.3" text-anchor="middle" fill="#2b2b2b">0.0</text>
<text x="80.58" y="399.41" font-size="6.3" text-anchor="middle" fill="#2b2b2b">0.0</text>
<text x="104.43" y="399.41" font-size="6.3" text-anchor="middle" fill="#2b2b2b">0.021</text>
<text x="128.28" y="399.41" font-size="6.3" text-anchor="middle" fill="#2b2b2b">0.083</text>
<text x="152.12" y="399.41" font-size="6.3" text-anchor="middle" fill="#2b2b2b">0.021</text>
<text x="175.97" y="399.41" font-size="6.3" text-anchor="middle" fill="#2b2b2b">0.083</text>
<text x="199.82" y="399.41" font-size="6.3" text-anchor="middle" fill="#2b2b2b">0.042</text>
<text x="223.68" y="399.41" font-size="6.3" text-anchor="middle" fill="#2b2b2b">0.0</text>
<text x="247.53" y="399.41" font-size="6.3" text-anchor="middle" fill="#2b2b2b">0.0</text>
<text x="271.38" y="399.41" font-size="6.3" text-anchor="middle" fill="#fff">0.125</text>
<text x="295.23" y="399.41" font-size="6.3" text-anchor="middle" fill="#2b2b2b">0.042</text>
<text x="319.07" y="399.41" font-size="6.3" text-anchor="middle" fill="#2b2b2b">0.0</text>
<text x="32.88" y="415.60" font-size="6.3" text-anchor="middle" fill="#fff">0.747</text>
<text x="56.73" y="415.60" font-size="6.3" text-anchor="middle" fill="#2b2b2b">0.003</text>
<text x="80.58" y="415.60" font-size="6.3" text-anchor="middle" fill="#2b2b2b">0.016</text>
<text x="104.43" y="415.60" font-size="6.3" text-anchor="middle" fill="#2b2b2b">0.0</text>
<text x="128.28" y="415.60" font-size="6.3" text-anchor="middle" fill="#2b2b2b">0.0</text>
<text x="152.12" y="415.60" font-size="6.3" text-anchor="middle" fill="#2b2b2b">0.045</text>
<text x="175.97" y="415.60" font-size="6.3" text-anchor="middle" fill="#2b2b2b">0.008</text>
<text x="199.82" y="415.60" font-size="6.3" text-anchor="middle" fill="#2b2b2b">0.066</text>
<text x="223.68" y="415.60" font-size="6.3" text-anchor="middle" fill="#2b2b2b">0.008</text>
<text x="247.53" y="415.60" font-size="6.3" text-anchor="middle" fill="#2b2b2b">0.021</text>
<text x="271.38" y="415.60" font-size="6.3" text-anchor="middle" fill="#2b2b2b">0.066</text>
<text x="295.23" y="415.60" font-size="6.3" text-anchor="middle" fill="#2b2b2b">0.021</text>
<text x="319.07" y="415.60" font-size="6.3" text-anchor="middle" fill="#2b2b2b">0.0</text>
<text x="32.88" y="431.79" font-size="6.3" text-anchor="middle" fill="#fff">0.619</text>
<text x="56.73" y="431.79" font-size="6.3" text-anchor="middle" fill="#2b2b2b">0.0</text>
<text x="80.58" y="431.79" font-size="6.3" text-anchor="middle" fill="#2b2b2b">0.0</text>
<text x="104.43" y="431.79" font-size="6.3" text-anchor="middle" fill="#2b2b2b">0.003</text>
<text x="128.28" y="431.79" font-size="6.3" text-anchor="middle" fill="#2b2b2b">0.01</text>
<text x="152.12" y="431.79" font-size="6.3" text-anchor="middle" fill="#2b2b2b">0.033</text>
<text x="175.97" y="431.79" font-size="6.3" text-anchor="middle" fill="#2b2b2b">0.09</text>
<text x="199.82" y="431.79" font-size="6.3" text-anchor="middle" fill="#2b2b2b">0.084</text>
<text x="223.68" y="431.79" font-size="6.3" text-anchor="middle" fill="#2b2b2b">0.013</text>
<text x="247.53" y="431.79" font-size="6.3" text-anchor="middle" fill="#2b2b2b">0.027</text>
<text x="271.38" y="431.79" font-size="6.3" text-anchor="middle" fill="#2b2b2b">0.094</text>
<text x="295.23" y="431.79" font-size="6.3" text-anchor="middle" fill="#2b2b2b">0.027</text>
<text x="319.07" y="431.79" font-size="6.3" text-anchor="middle" fill="#2b2b2b">0.0</text>
<text x="32.88" y="447.98" font-size="6.3" text-anchor="middle" fill="#fff">0.528</text>
<text x="56.73" y="447.98" font-size="6.3" text-anchor="middle" fill="#2b2b2b">0.006</text>
<text x="80.58" y="447.98" font-size="6.3" text-anchor="middle" fill="#2b2b2b">0.016</text>
<text x="104.43" y="447.98" font-size="6.3" text-anchor="middle" fill="#2b2b2b">0.001</text>
<text x="128.28" y="447.98" font-size="6.3" text-anchor="middle" fill="#2b2b2b">0.002</text>
<text x="152.12" y="447.98" font-size="6.3" text-anchor="middle" fill="#2b2b2b">0.031</text>
<text x="175.97" y="447.98" font-size="6.3" text-anchor="middle" fill="#2b2b2b">0.016</text>
<text x="199.82" y="447.98" font-size="6.3" text-anchor="middle" fill="#fff">0.189</text>
<text x="223.68" y="447.98" font-size="6.3" text-anchor="middle" fill="#2b2b2b">0.06</text>
<text x="247.53" y="447.98" font-size="6.3" text-anchor="middle" fill="#2b2b2b">0.026</text>
<text x="271.38" y="447.98" font-size="6.3" text-anchor="middle" fill="#2b2b2b">0.096</text>
<text x="295.23" y="447.98" font-size="6.3" text-anchor="middle" fill="#2b2b2b">0.031</text>
<text x="319.07" y="447.98" font-size="6.3" text-anchor="middle" fill="#2b2b2b">0.0</text>
<text x="32.88" y="464.17" font-size="6.3" text-anchor="middle" fill="#fff">0.283</text>
<text x="56.73" y="464.17" font-size="6.3" text-anchor="middle" fill="#2b2b2b">0.0</text>
<text x="80.58" y="464.17" font-size="6.3" text-anchor="middle" fill="#2b2b2b">0.004</text>
<text x="104.43" y="464.17" font-size="6.3" text-anchor="middle" fill="#2b2b2b">0.004</text>
<text x="128.28" y="464.17" font-size="6.3" text-anchor="middle" fill="#2b2b2b">0.004</text>
<text x="152.12" y="464.17" font-size="6.3" text-anchor="middle" fill="#2b2b2b">0.021</text>
<text x="175.97" y="464.17" font-size="6.3" text-anchor="middle" fill="#2b2b2b">0.012</text>
<text x="199.82" y="464.17" font-size="6.3" text-anchor="middle" fill="#fff">0.3</text>
<text x="223.68" y="464.17" font-size="6.3" text-anchor="middle" fill="#fff">0.238</text>
<text x="247.53" y="464.17" font-size="6.3" text-anchor="middle" fill="#2b2b2b">0.033</text>
<text x="271.38" y="464.17" font-size="6.3" text-anchor="middle" fill="#2b2b2b">0.054</text>
<text x="295.23" y="464.17" font-size="6.3" text-anchor="middle" fill="#2b2b2b">0.038</text>
<text x="319.07" y="464.17" font-size="6.3" text-anchor="middle" fill="#2b2b2b">0.008</text>
<text x="32.88" y="480.36" font-size="6.3" text-anchor="middle" fill="#fff">0.367</text>
<text x="56.73" y="480.36" font-size="6.3" text-anchor="middle" fill="#2b2b2b">0.0</text>
<text x="80.58" y="480.36" font-size="6.3" text-anchor="middle" fill="#2b2b2b">0.004</text>
<text x="104.43" y="480.36" font-size="6.3" text-anchor="middle" fill="#2b2b2b">0.0</text>
<text x="128.28" y="480.36" font-size="6.3" text-anchor="middle" fill="#2b2b2b">0.004</text>
<text x="152.12" y="480.36" font-size="6.3" text-anchor="middle" fill="#2b2b2b">0.041</text>
<text x="175.97" y="480.36" font-size="6.3" text-anchor="middle" fill="#2b2b2b">0.008</text>
<text x="199.82" y="480.36" font-size="6.3" text-anchor="middle" fill="#2b2b2b">0.114</text>
<text x="223.68" y="480.36" font-size="6.3" text-anchor="middle" fill="#2b2b2b">0.012</text>
<text x="247.53" y="480.36" font-size="6.3" text-anchor="middle" fill="#2b2b2b">0.078</text>
<text x="271.38" y="480.36" font-size="6.3" text-anchor="middle" fill="#fff">0.257</text>
<text x="295.23" y="480.36" font-size="6.3" text-anchor="middle" fill="#2b2b2b">0.114</text>
<text x="319.07" y="480.36" font-size="6.3" text-anchor="middle" fill="#2b2b2b">0.0</text>
<text x="32.88" y="496.55" font-size="6.3" text-anchor="middle" fill="#fff">0.576</text>
<text x="56.73" y="496.55" font-size="6.3" text-anchor="middle" fill="#2b2b2b">0.004</text>
<text x="80.58" y="496.55" font-size="6.3" text-anchor="middle" fill="#2b2b2b">0.006</text>
<text x="104.43" y="496.55" font-size="6.3" text-anchor="middle" fill="#2b2b2b">0.002</text>
<text x="128.28" y="496.55" font-size="6.3" text-anchor="middle" fill="#2b2b2b">0.007</text>
<text x="152.12" y="496.55" font-size="6.3" text-anchor="middle" fill="#2b2b2b">0.035</text>
<text x="175.97" y="496.55" font-size="6.3" text-anchor="middle" fill="#2b2b2b">0.022</text>
<text x="199.82" y="496.55" font-size="6.3" text-anchor="middle" fill="#2b2b2b">0.086</text>
<text x="223.68" y="496.55" font-size="6.3" text-anchor="middle" fill="#2b2b2b">0.01</text>
<text x="247.53" y="496.55" font-size="6.3" text-anchor="middle" fill="#2b2b2b">0.033</text>
<text x="271.38" y="496.55" font-size="6.3" text-anchor="middle" fill="#fff">0.17</text>
<text x="295.23" y="496.55" font-size="6.3" text-anchor="middle" fill="#2b2b2b">0.049</text>
<text x="319.07" y="496.55" font-size="6.3" text-anchor="middle" fill="#2b2b2b">0.0</text>
<text x="32.88" y="512.74" font-size="6.3" text-anchor="middle" fill="#fff">0.539</text>
<text x="56.73" y="512.74" font-size="6.3" text-anchor="middle" fill="#2b2b2b">0.006</text>
<text x="80.58" y="512.74" font-size="6.3" text-anchor="middle" fill="#2b2b2b">0.006</text>
<text x="104.43" y="512.74" font-size="6.3" text-anchor="middle" fill="#2b2b2b">0.0</text>
<text x="128.28" y="512.74" font-size="6.3" text-anchor="middle" fill="#2b2b2b">0.011</text>
<text x="152.12" y="512.74" font-size="6.3" text-anchor="middle" fill="#2b2b2b">0.019</text>
<text x="175.97" y="512.74" font-size="6.3" text-anchor="middle" fill="#2b2b2b">0.009</text>
<text x="199.82" y="512.74" font-size="6.3" text-anchor="middle" fill="#2b2b2b">0.084</text>
<text x="223.68" y="512.74" font-size="6.3" text-anchor="middle" fill="#2b2b2b">0.011</text>
<text x="247.53" y="512.74" font-size="6.3" text-anchor="middle" fill="#2b2b2b">0.052</text>
<text x="271.38" y="512.74" font-size="6.3" text-anchor="middle" fill="#fff">0.166</text>
<text x="295.23" y="512.74" font-size="6.3" text-anchor="middle" fill="#2b2b2b">0.097</text>
<text x="319.07" y="512.74" font-size="6.3" text-anchor="middle" fill="#2b2b2b">0.0</text>
<text x="32.88" y="528.93" font-size="6.3" text-anchor="middle" fill="#2b2b2b">-</text>
<text x="56.73" y="528.93" font-size="6.3" text-anchor="middle" fill="#2b2b2b">-</text>
<text x="80.58" y="528.93" font-size="6.3" text-anchor="middle" fill="#2b2b2b">-</text>
<text x="104.43" y="528.93" font-size="6.3" text-anchor="middle" fill="#2b2b2b">-</text>
<text x="128.28" y="528.93" font-size="6.3" text-anchor="middle" fill="#2b2b2b">-</text>
<text x="152.12" y="528.93" font-size="6.3" text-anchor="middle" fill="#2b2b2b">-</text>
<text x="175.97" y="528.93" font-size="6.3" text-anchor="middle" fill="#2b2b2b">-</text>
<text x="199.82" y="528.93" font-size="6.3" text-anchor="middle" fill="#2b2b2b">-</text>
<text x="223.68" y="528.93" font-size="6.3" text-anchor="middle" fill="#2b2b2b">-</text>
<text x="247.53" y="528.93" font-size="6.3" text-anchor="middle" fill="#2b2b2b">-</text>
<text x="271.38" y="528.93" font-size="6.3" text-anchor="middle" fill="#2b2b2b">-</text>
<text x="295.23" y="528.93" font-size="6.3" text-anchor="middle" fill="#2b2b2b">-</text>
<text x="319.07" y="528.93" font-size="6.3" text-anchor="middle" fill="#2b2b2b">-</text>
<text transform="translate(32.88,323.18) scale(0.92,1)" font-size="6.8" text-anchor="middle" fill="#2a3f5f">0</text>
<text transform="translate(20.35,334.85) scale(0.9,1)" font-size="7.0" text-anchor="end" fill="#2a3f5f">0</text>
<text transform="translate(56.73,323.18) scale(0.92,1)" font-size="6.8" text-anchor="middle" fill="#2a3f5f">0-B</text>
<text transform="translate(20.35,351.04) scale(0.9,1)" font-size="7.0" text-anchor="end" fill="#2a3f5f">0-B</text>
<text transform="translate(80.58,323.18) scale(0.92,1)" font-size="6.8" text-anchor="middle" fill="#2a3f5f">0-A</text>
<text transform="translate(20.35,367.23) scale(0.9,1)" font-size="7.0" text-anchor="end" fill="#2a3f5f">0-A</text>
<text transform="translate(104.43,323.18) scale(0.92,1)" font-size="6.8" text-anchor="middle" fill="#2a3f5f">0-C</text>
<text transform="translate(20.35,383.42) scale(0.9,1)" font-size="7.0" text-anchor="end" fill="#2a3f5f">0-C</text>
<text transform="translate(128.28,323.18) scale(0.92,1)" font-size="6.8" text-anchor="middle" fill="#2a3f5f">0-D</text>
<text transform="translate(20.35,399.61) scale(0.9,1)" font-size="7.0" text-anchor="end" fill="#2a3f5f">0-D</text>
<text transform="translate(152.12,323.18) scale(0.92,1)" font-size="6.8" text-anchor="middle" fill="#2a3f5f">0-F</text>
<text transform="translate(20.35,415.80) scale(0.9,1)" font-size="7.0" text-anchor="end" fill="#2a3f5f">0-F</text>
<text transform="translate(175.97,323.18) scale(0.92,1)" font-size="6.8" text-anchor="middle" fill="#2a3f5f">0-E</text>
<text transform="translate(20.35,431.99) scale(0.9,1)" font-size="7.0" text-anchor="end" fill="#2a3f5f">0-E</text>
<text transform="translate(199.82,323.18) scale(0.92,1)" font-size="6.8" text-anchor="middle" fill="#2a3f5f">1-a</text>
<text transform="translate(20.35,448.18) scale(0.9,1)" font-size="7.0" text-anchor="end" fill="#2a3f5f">1-a</text>
<text transform="translate(223.68,323.18) scale(0.92,1)" font-size="6.8" text-anchor="middle" fill="#2a3f5f">1-b</text>
<text transform="translate(20.35,464.37) scale(0.9,1)" font-size="7.0" text-anchor="end" fill="#2a3f5f">1-b</text>
<text transform="translate(247.53,323.18) scale(0.92,1)" font-size="6.8" text-anchor="middle" fill="#2a3f5f">1-c</text>
<text transform="translate(20.35,480.56) scale(0.9,1)" font-size="7.0" text-anchor="end" fill="#2a3f5f">1-c</text>
<text transform="translate(271.38,323.18) scale(0.92,1)" font-size="6.8" text-anchor="middle" fill="#2a3f5f">2</text>
<text transform="translate(20.35,496.75) scale(0.9,1)" font-size="7.0" text-anchor="end" fill="#2a3f5f">2</text>
<text transform="translate(295.23,323.18) scale(0.92,1)" font-size="6.8" text-anchor="middle" fill="#2a3f5f">3</text>
<text transform="translate(20.35,512.94) scale(0.9,1)" font-size="7.0" text-anchor="end" fill="#2a3f5f">3</text>
<text transform="translate(319.07,323.18) scale(0.92,1)" font-size="6.8" text-anchor="middle" fill="#2a3f5f">4</text>
<text transform="translate(20.35,529.12) scale(0.9,1)" font-size="7.0" text-anchor="end" fill="#2a3f5f">4</text>
<text x="176.60" y="311.02" font-size="9.2" text-anchor="middle" fill="#000">End Subcluster</text>
<text x="0" y="0" font-size="9.25" text-anchor="middle" fill="#000" transform="translate(7.90,431.10) rotate(-90)">Start Subcluster</text>
</g>
<rect x="45.8" y="405.5" width="94.6" height="128.8" fill="none" stroke="#fdd02b" stroke-width="2"/>
<rect x="141.3" y="405.3" width="188.2" height="127.6" fill="none" stroke="#c0180c" stroke-width="2"/>
<rect x="55.1" y="533.8" width="85.9" height="26" fill="#fdd23c"/>
<text x="139.30" y="546.37" font-size="10.2" text-anchor="end" fill="#000">Decreased</text>
<text x="139.30" y="556.97" font-size="10.2" text-anchor="end" fill="#000">transitions leaving</text>
<rect x="196.9" y="532.8" width="133.5" height="27.8" fill="#bb1a0b"/>
<text x="328.30" y="545.97" font-size="10.2" text-anchor="end" fill="#fff">Increased transitions staying</text>
<text x="328.30" y="556.47" font-size="10.2" text-anchor="end" fill="#fff">within insomnia-like sleep</text>
<g>
<rect x="368.60" y="324.40" width="25.15" height="17.38" fill="#790d75"/>
<rect x="392.75" y="324.40" width="25.15" height="17.38" fill="#cbdceb"/>
<rect x="416.90" y="324.40" width="25.15" height="17.38" fill="#c4d7e8"/>
<rect x="441.05" y="324.40" width="25.15" height="17.38" fill="#d7e5f0"/>
<rect x="465.20" y="324.40" width="25.15" height="17.38" fill="#dae7f1"/>
<rect x="489.35" y="324.40" width="25.15" height="17.38" fill="#b9cfe4"/>
<rect x="513.50" y="324.40" width="25.15" height="17.38" fill="#cfdfed"/>
<rect x="537.65" y="324.40" width="25.15" height="17.38" fill="#9bb6d7"/>
<rect x="561.80" y="324.40" width="25.15" height="17.38" fill="#d1e0ed"/>
<rect x="585.95" y="324.40" width="25.15" height="17.38" fill="#cddeec"/>
<rect x="610.10" y="324.40" width="25.15" height="17.38" fill="#9dbad9"/>
<rect x="634.25" y="324.40" width="25.15" height="17.38" fill="#b8cee3"/>
<rect x="658.40" y="324.40" width="24.15" height="17.38" fill="#f7fcfd"/>
<rect x="368.60" y="340.78" width="25.15" height="17.38" fill="#710a6d"/>
<rect x="392.75" y="340.78" width="25.15" height="17.38" fill="#9cb7d7"/>
<rect x="416.90" y="340.78" width="25.15" height="17.38" fill="#cbdceb"/>
<rect x="441.05" y="340.78" width="25.15" height="17.38" fill="#f7fcfd"/>
<rect x="465.20" y="340.78" width="25.15" height="17.38" fill="#f7fcfd"/>
<rect x="489.35" y="340.78" width="25.15" height="17.38" fill="#bbd0e5"/>
<rect x="513.50" y="340.78" width="25.15" height="17.38" fill="#f7fcfd"/>
<rect x="537.65" y="340.78" width="25.15" height="17.38" fill="#98b0d4"/>
<rect x="561.80" y="340.78" width="25.15" height="17.38" fill="#f7fcfd"/>
<rect x="585.95" y="340.78" width="25.15" height="17.38" fill="#f7fcfd"/>
<rect x="610.10" y="340.78" width="25.15" height="17.38" fill="#cbdceb"/>
<rect x="634.25" y="340.78" width="25.15" height="17.38" fill="#cbdceb"/>
<rect x="658.40" y="340.78" width="24.15" height="17.38" fill="#f7fcfd"/>
<rect x="368.60" y="357.16" width="25.15" height="17.38" fill="#700a6c"/>
<rect x="392.75" y="357.16" width="25.15" height="17.38" fill="#c3d6e8"/>
<rect x="416.90" y="357.16" width="25.15" height="17.38" fill="#b1c9e1"/>
<rect x="441.05" y="357.16" width="25.15" height="17.38" fill="#c3d6e8"/>
<rect x="465.20" y="357.16" width="25.15" height="17.38" fill="#f7fcfd"/>
<rect x="489.35" y="357.16" width="25.15" height="17.38" fill="#b1c9e1"/>
<rect x="513.50" y="357.16" width="25.15" height="17.38" fill="#f7fcfd"/>
<rect x="537.65" y="357.16" width="25.15" height="17.38" fill="#c3d6e8"/>
<rect x="561.80" y="357.16" width="25.15" height="17.38" fill="#f7fcfd"/>
<rect x="585.95" y="357.16" width="25.15" height="17.38" fill="#f7fcfd"/>
<rect x="610.10" y="357.16" width="25.15" height="17.38" fill="#a5c1dc"/>
<rect x="634.25" y="357.16" width="25.15" height="17.38" fill="#b1c9e1"/>
<rect x="658.40" y="357.16" width="24.15" height="17.38" fill="#f7fcfd"/>
<rect x="368.60" y="373.54" width="25.15" height="17.38" fill="#832087"/>
<rect x="392.75" y="373.54" width="25.15" height="17.38" fill="#f7fcfd"/>
<rect x="416.90" y="373.54" width="25.15" height="17.38" fill="#f7fcfd"/>
<rect x="441.05" y="373.54" width="25.15" height="17.38" fill="#8c81bc"/>
<rect x="465.20" y="373.54" width="25.15" height="17.38" fill="#8c81bc"/>
<rect x="489.35" y="373.54" width="25.15" height="17.38" fill="#f7fcfd"/>
<rect x="513.50" y="373.54" width="25.15" height="17.38" fill="#f7fcfd"/>
<rect x="537.65" y="373.54" width="25.15" height="17.38" fill="#f7fcfd"/>
<rect x="561.80" y="373.54" width="25.15" height="17.38" fill="#f7fcfd"/>
<rect x="585.95" y="373.54" width="25.15" height="17.38" fill="#f7fcfd"/>
<rect x="610.10" y="373.54" width="25.15" height="17.38" fill="#f7fcfd"/>
<rect x="634.25" y="373.54" width="25.15" height="17.38" fill="#f7fcfd"/>
<rect x="658.40" y="373.54" width="24.15" height="17.38" fill="#f7fcfd"/>
<rect x="368.60" y="389.92" width="25.15" height="17.38" fill="#82137f"/>
<rect x="392.75" y="389.92" width="25.15" height="17.38" fill="#f7fcfd"/>
<rect x="416.90" y="389.92" width="25.15" height="17.38" fill="#f7fcfd"/>
<rect x="441.05" y="389.92" width="25.15" height="17.38" fill="#8c85be"/>
<rect x="465.20" y="389.92" width="25.15" height="17.38" fill="#96acd1"/>
<rect x="489.35" y="389.92" width="25.15" height="17.38" fill="#f7fcfd"/>
<rect x="513.50" y="389.92" width="25.15" height="17.38" fill="#f7fcfd"/>
<rect x="537.65" y="389.92" width="25.15" height="17.38" fill="#a9c3de"/>
<rect x="561.80" y="389.92" width="25.15" height="17.38" fill="#f7fcfd"/>
<rect x="585.95" y="389.92" width="25.15" height="17.38" fill="#f7fcfd"/>
<rect x="610.10" y="389.92" width="25.15" height="17.38" fill="#f7fcfd"/>
<rect x="634.25" y="389.92" width="25.15" height="17.38" fill="#f7fcfd"/>
<rect x="658.40" y="389.92" width="24.15" height="17.38" fill="#f7fcfd"/>
<rect x="368.60" y="406.30" width="25.15" height="17.38" fill="#810f7c"/>
<rect x="392.75" y="406.30" width="25.15" height="17.38" fill="#d1e0ed"/>
<rect x="416.90" y="406.30" width="25.15" height="17.38" fill="#c2d5e7"/>
<rect x="441.05" y="406.30" width="25.15" height="17.38" fill="#f7fcfd"/>
<rect x="465.20" y="406.30" width="25.15" height="17.38" fill="#f7fcfd"/>
<rect x="489.35" y="406.30" width="25.15" height="17.38" fill="#a3bfdc"/>
<rect x="513.50" y="406.30" width="25.15" height="17.38" fill="#d1e0ed"/>
<rect x="537.65" y="406.30" width="25.15" height="17.38" fill="#92a3cd"/>
<rect x="561.80" y="406.30" width="25.15" height="17.38" fill="#d1e0ed"/>
<rect x="585.95" y="406.30" width="25.15" height="17.38" fill="#d1e0ed"/>
<rect x="610.10" y="406.30" width="25.15" height="17.38" fill="#9ebcda"/>
<rect x="634.25" y="406.30" width="25.15" height="17.38" fill="#c2d5e7"/>
<rect x="658.40" y="406.30" width="24.15" height="17.38" fill="#f7fcfd"/>
<rect x="368.60" y="422.68" width="25.15" height="17.38" fill="#82147f"/>
<rect x="392.75" y="422.68" width="25.15" height="17.38" fill="#f7fcfd"/>
<rect x="416.90" y="422.68" width="25.15" height="17.38" fill="#f7fcfd"/>
<rect x="441.05" y="422.68" width="25.15" height="17.38" fill="#f7fcfd"/>
<rect x="465.20" y="422.68" width="25.15" height="17.38" fill="#c7d9e9"/>
<rect x="489.35" y="422.68" width="25.15" height="17.38" fill="#c7d9e9"/>
<rect x="513.50" y="422.68" width="25.15" height="17.38" fill="#b7cee3"/>
<rect x="537.65" y="422.68" width="25.15" height="17.38" fill="#a2bfdb"/>
<rect x="561.80" y="422.68" width="25.15" height="17.38" fill="#b7cee3"/>
<rect x="585.95" y="422.68" width="25.15" height="17.38" fill="#abc5df"/>
<rect x="610.10" y="422.68" width="25.15" height="17.38" fill="#8c95c6"/>
<rect x="634.25" y="422.68" width="25.15" height="17.38" fill="#f7fcfd"/>
<rect x="658.40" y="422.68" width="24.15" height="17.38" fill="#f7fcfd"/>
<rect x="368.60" y="439.06" width="25.15" height="17.38" fill="#852b8e"/>
<rect x="392.75" y="439.06" width="25.15" height="17.38" fill="#dae7f1"/>
<rect x="416.90" y="439.06" width="25.15" height="17.38" fill="#b8cee3"/>
<rect x="441.05" y="439.06" width="25.15" height="17.38" fill="#e3eef5"/>
<rect x="465.20" y="439.06" width="25.15" height="17.38" fill="#f7fcfd"/>
<rect x="489.35" y="439.06" width="25.15" height="17.38" fill="#b5cce2"/>
<rect x="513.50" y="439.06" width="25.15" height="17.38" fill="#d1e0ed"/>
<rect x="537.65" y="439.06" width="25.15" height="17.38" fill="#8c8bc1"/>
<rect x="561.80" y="439.06" width="25.15" height="17.38" fill="#9fbdda"/>
<rect x="585.95" y="439.06" width="25.15" height="17.38" fill="#b8cee3"/>
<rect x="610.10" y="439.06" width="25.15" height="17.38" fill="#98b0d4"/>
<rect x="634.25" y="439.06" width="25.15" height="17.38" fill="#bdd2e5"/>
<rect x="658.40" y="439.06" width="24.15" height="17.38" fill="#f7fcfd"/>
<rect x="368.60" y="455.44" width="25.15" height="17.38" fill="#8a5ba9"/>
<rect x="392.75" y="455.44" width="25.15" height="17.38" fill="#f7fcfd"/>
<rect x="416.90" y="455.44" width="25.15" height="17.38" fill="#f7fcfd"/>
<rect x="441.05" y="455.44" width="25.15" height="17.38" fill="#f7fcfd"/>
<rect x="465.20" y="455.44" width="25.15" height="17.38" fill="#cddeec"/>
<rect x="489.35" y="455.44" width="25.15" height="17.38" fill="#b5cce2"/>
<rect x="513.50" y="455.44" width="25.15" height="17.38" fill="#cddeec"/>
<rect x="537.65" y="455.44" width="25.15" height="17.38" fill="#8c69b0"/>
<rect x="561.80" y="455.44" width="25.15" height="17.38" fill="#8c79b8"/>
<rect x="585.95" y="455.44" width="25.15" height="17.38" fill="#bed2e6"/>
<rect x="610.10" y="455.44" width="25.15" height="17.38" fill="#9ebcda"/>
<rect x="634.25" y="455.44" width="25.15" height="17.38" fill="#bed2e6"/>
<rect x="658.40" y="455.44" width="24.15" height="17.38" fill="#f7fcfd"/>
<rect x="368.60" y="471.82" width="25.15" height="17.38" fill="#8950a4"/>
<rect x="392.75" y="471.82" width="25.15" height="17.38" fill="#f7fcfd"/>
<rect x="416.90" y="471.82" width="25.15" height="17.38" fill="#cddeec"/>
<rect x="441.05" y="471.82" width="25.15" height="17.38" fill="#f7fcfd"/>
<rect x="465.20" y="471.82" width="25.15" height="17.38" fill="#f7fcfd"/>
<rect x="489.35" y="471.82" width="25.15" height="17.38" fill="#f7fcfd"/>
<rect x="513.50" y="471.82" width="25.15" height="17.38" fill="#f7fcfd"/>
<rect x="537.65" y="471.82" width="25.15" height="17.38" fill="#909fcb"/>
<rect x="561.80" y="471.82" width="25.15" height="17.38" fill="#bed2e6"/>
<rect x="585.95" y="471.82" width="25.15" height="17.38" fill="#95a9d0"/>
<rect x="610.10" y="471.82" width="25.15" height="17.38" fill="#8c73b5"/>
<rect x="634.25" y="471.82" width="25.15" height="17.38" fill="#909fcb"/>
<rect x="658.40" y="471.82" width="24.15" height="17.38" fill="#f7fcfd"/>
<rect x="368.60" y="488.20" width="25.15" height="17.38" fill="#842389"/>
<rect x="392.75" y="488.20" width="25.15" height="17.38" fill="#f7fcfd"/>
<rect x="416.90" y="488.20" width="25.15" height="17.38" fill="#d5e3ef"/>
<rect x="441.05" y="488.20" width="25.15" height="17.38" fill="#ddeaf3"/>
<rect x="465.20" y="488.20" width="25.15" height="17.38" fill="#e3eef5"/>
<rect x="489.35" y="488.20" width="25.15" height="17.38" fill="#c3d6e8"/>
<rect x="513.50" y="488.20" width="25.15" height="17.38" fill="#cadbeb"/>
<rect x="537.65" y="488.20" width="25.15" height="17.38" fill="#99b1d4"/>
<rect x="561.80" y="488.20" width="25.15" height="17.38" fill="#c7d9e9"/>
<rect x="585.95" y="488.20" width="25.15" height="17.38" fill="#adc6df"/>
<rect x="610.10" y="488.20" width="25.15" height="17.38" fill="#8c85be"/>
<rect x="634.25" y="488.20" width="25.15" height="17.38" fill="#adc6df"/>
<rect x="658.40" y="488.20" width="24.15" height="17.38" fill="#f7fcfd"/>
<rect x="368.60" y="504.58" width="25.15" height="17.38" fill="#863293"/>
<rect x="392.75" y="504.58" width="25.15" height="17.38" fill="#d7e5f0"/>
<rect x="416.90" y="504.58" width="25.15" height="17.38" fill="#d7e5f0"/>
<rect x="441.05" y="504.58" width="25.15" height="17.38" fill="#f7fcfd"/>
<rect x="465.20" y="504.58" width="25.15" height="17.38" fill="#c2d5e7"/>
<rect x="489.35" y="504.58" width="25.15" height="17.38" fill="#abc5df"/>
<rect x="513.50" y="504.58" width="25.15" height="17.38" fill="#c2d5e7"/>
<rect x="537.65" y="504.58" width="25.15" height="17.38" fill="#9bb6d7"/>
<rect x="561.80" y="504.58" width="25.15" height="17.38" fill="#bbd0e5"/>
<rect x="585.95" y="504.58" width="25.15" height="17.38" fill="#abc5df"/>
<rect x="610.10" y="504.58" width="25.15" height="17.38" fill="#8c8ec2"/>
<rect x="634.25" y="504.58" width="25.15" height="17.38" fill="#9bb6d7"/>
<rect x="658.40" y="504.58" width="24.15" height="17.38" fill="#f7fcfd"/>
<rect x="368.60" y="520.96" width="25.15" height="16.38" fill="#f7fcfd"/>
<rect x="392.75" y="520.96" width="25.15" height="16.38" fill="#f7fcfd"/>
<rect x="416.90" y="520.96" width="25.15" height="16.38" fill="#f7fcfd"/>
<rect x="441.05" y="520.96" width="25.15" height="16.38" fill="#f7fcfd"/>
<rect x="465.20" y="520.96" width="25.15" height="16.38" fill="#f7fcfd"/>
<rect x="489.35" y="520.96" width="25.15" height="16.38" fill="#f7fcfd"/>
<rect x="513.50" y="520.96" width="25.15" height="16.38" fill="#f7fcfd"/>
<rect x="537.65" y="520.96" width="25.15" height="16.38" fill="#f7fcfd"/>
<rect x="561.80" y="520.96" width="25.15" height="16.38" fill="#4d004b"/>
<rect x="585.95" y="520.96" width="25.15" height="16.38" fill="#f7fcfd"/>
<rect x="610.10" y="520.96" width="25.15" height="16.38" fill="#f7fcfd"/>
<rect x="634.25" y="520.96" width="25.15" height="16.38" fill="#f7fcfd"/>
<rect x="658.40" y="520.96" width="24.15" height="16.38" fill="#f7fcfd"/>
<text x="380.68" y="335.14" font-size="6.3" text-anchor="middle" fill="#fff">0.732</text>
<text x="404.83" y="335.14" font-size="6.3" text-anchor="middle" fill="#2b2b2b">0.012</text>
<text x="428.98" y="335.14" font-size="6.3" text-anchor="middle" fill="#2b2b2b">0.017</text>
<text x="453.12" y="335.14" font-size="6.3" text-anchor="middle" fill="#2b2b2b">0.006</text>
<text x="477.28" y="335.14" font-size="6.3" text-anchor="middle" fill="#2b2b2b">0.005</text>
<text x="501.43" y="335.14" font-size="6.3" text-anchor="middle" fill="#2b2b2b">0.027</text>
<text x="525.58" y="335.14" font-size="6.3" text-anchor="middle" fill="#2b2b2b">0.01</text>
<text x="549.73" y="335.14" font-size="6.3" text-anchor="middle" fill="#2b2b2b">0.075</text>
<text x="573.88" y="335.14" font-size="6.3" text-anchor="middle" fill="#2b2b2b">0.009</text>
<text x="598.02" y="335.14" font-size="6.3" text-anchor="middle" fill="#2b2b2b">0.011</text>
<text x="622.17" y="335.14" font-size="6.3" text-anchor="middle" fill="#2b2b2b">0.069</text>
<text x="646.33" y="335.14" font-size="6.3" text-anchor="middle" fill="#2b2b2b">0.028</text>
<text x="670.48" y="335.14" font-size="6.3" text-anchor="middle" fill="#2b2b2b">-</text>
<text x="380.68" y="351.52" font-size="6.3" text-anchor="middle" fill="#fff">0.778</text>
<text x="404.83" y="351.52" font-size="6.3" text-anchor="middle" fill="#2b2b2b">0.074</text>
<text x="428.98" y="351.52" font-size="6.3" text-anchor="middle" fill="#2b2b2b">0.012</text>
<text x="453.12" y="351.52" font-size="6.3" text-anchor="middle" fill="#2b2b2b">0.0</text>
<text x="477.28" y="351.52" font-size="6.3" text-anchor="middle" fill="#2b2b2b">0.0</text>
<text x="501.43" y="351.52" font-size="6.3" text-anchor="middle" fill="#2b2b2b">0.025</text>
<text x="525.58" y="351.52" font-size="6.3" text-anchor="middle" fill="#2b2b2b">0.0</text>
<text x="549.73" y="351.52" font-size="6.3" text-anchor="middle" fill="#2b2b2b">0.086</text>
<text x="573.88" y="351.52" font-size="6.3" text-anchor="middle" fill="#2b2b2b">0.0</text>
<text x="598.02" y="351.52" font-size="6.3" text-anchor="middle" fill="#2b2b2b">0.0</text>
<text x="622.17" y="351.52" font-size="6.3" text-anchor="middle" fill="#2b2b2b">0.012</text>
<text x="646.33" y="351.52" font-size="6.3" text-anchor="middle" fill="#2b2b2b">0.012</text>
<text x="670.48" y="351.52" font-size="6.3" text-anchor="middle" fill="#2b2b2b">-</text>
<text x="380.68" y="367.90" font-size="6.3" text-anchor="middle" fill="#fff">0.786</text>
<text x="404.83" y="367.90" font-size="6.3" text-anchor="middle" fill="#2b2b2b">0.018</text>
<text x="428.98" y="367.90" font-size="6.3" text-anchor="middle" fill="#2b2b2b">0.036</text>
<text x="453.12" y="367.90" font-size="6.3" text-anchor="middle" fill="#2b2b2b">0.018</text>
<text x="477.28" y="367.90" font-size="6.3" text-anchor="middle" fill="#2b2b2b">0.0</text>
<text x="501.43" y="367.90" font-size="6.3" text-anchor="middle" fill="#2b2b2b">0.036</text>
<text x="525.58" y="367.90" font-size="6.3" text-anchor="middle" fill="#2b2b2b">0.0</text>
<text x="549.73" y="367.90" font-size="6.3" text-anchor="middle" fill="#2b2b2b">0.018</text>
<text x="573.88" y="367.90" font-size="6.3" text-anchor="middle" fill="#2b2b2b">0.0</text>
<text x="598.02" y="367.90" font-size="6.3" text-anchor="middle" fill="#2b2b2b">0.0</text>
<text x="622.17" y="367.90" font-size="6.3" text-anchor="middle" fill="#2b2b2b">0.054</text>
<text x="646.33" y="367.90" font-size="6.3" text-anchor="middle" fill="#2b2b2b">0.036</text>
<text x="670.48" y="367.90" font-size="6.3" text-anchor="middle" fill="#2b2b2b">-</text>
<text x="380.68" y="384.28" font-size="6.3" text-anchor="middle" fill="#fff">0.6</text>
<text x="404.83" y="384.28" font-size="6.3" text-anchor="middle" fill="#2b2b2b">0.0</text>
<text x="428.98" y="384.28" font-size="6.3" text-anchor="middle" fill="#2b2b2b">0.0</text>
<text x="453.12" y="384.28" font-size="6.3" text-anchor="middle" fill="#fff">0.2</text>
<text x="477.28" y="384.28" font-size="6.3" text-anchor="middle" fill="#fff">0.2</text>
<text x="501.43" y="384.28" font-size="6.3" text-anchor="middle" fill="#2b2b2b">0.0</text>
<text x="525.58" y="384.28" font-size="6.3" text-anchor="middle" fill="#2b2b2b">0.0</text>
<text x="549.73" y="384.28" font-size="6.3" text-anchor="middle" fill="#2b2b2b">0.0</text>
<text x="573.88" y="384.28" font-size="6.3" text-anchor="middle" fill="#2b2b2b">0.0</text>
<text x="598.02" y="384.28" font-size="6.3" text-anchor="middle" fill="#2b2b2b">0.0</text>
<text x="622.17" y="384.28" font-size="6.3" text-anchor="middle" fill="#2b2b2b">0.0</text>
<text x="646.33" y="384.28" font-size="6.3" text-anchor="middle" fill="#2b2b2b">0.0</text>
<text x="670.48" y="384.28" font-size="6.3" text-anchor="middle" fill="#2b2b2b">-</text>
<text x="380.68" y="400.66" font-size="6.3" text-anchor="middle" fill="#fff">0.667</text>
<text x="404.83" y="400.66" font-size="6.3" text-anchor="middle" fill="#2b2b2b">0.0</text>
<text x="428.98" y="400.66" font-size="6.3" text-anchor="middle" fill="#2b2b2b">0.0</text>
<text x="453.12" y="400.66" font-size="6.3" text-anchor="middle" fill="#fff">0.19</text>
<text x="477.28" y="400.66" font-size="6.3" text-anchor="middle" fill="#2b2b2b">0.095</text>
<text x="501.43" y="400.66" font-size="6.3" text-anchor="middle" fill="#2b2b2b">0.0</text>
<text x="525.58" y="400.66" font-size="6.3" text-anchor="middle" fill="#2b2b2b">0.0</text>
<text x="549.73" y="400.66" font-size="6.3" text-anchor="middle" fill="#2b2b2b">0.048</text>
<text x="573.88" y="400.66" font-size="6.3" text-anchor="middle" fill="#2b2b2b">0.0</text>
<text x="598.02" y="400.66" font-size="6.3" text-anchor="middle" fill="#2b2b2b">0.0</text>
<text x="622.17" y="400.66" font-size="6.3" text-anchor="middle" fill="#2b2b2b">0.0</text>
<text x="646.33" y="400.66" font-size="6.3" text-anchor="middle" fill="#2b2b2b">0.0</text>
<text x="670.48" y="400.66" font-size="6.3" text-anchor="middle" fill="#2b2b2b">-</text>
<text x="380.68" y="417.04" font-size="6.3" text-anchor="middle" fill="#fff">0.689</text>
<text x="404.83" y="417.04" font-size="6.3" text-anchor="middle" fill="#2b2b2b">0.009</text>
<text x="428.98" y="417.04" font-size="6.3" text-anchor="middle" fill="#2b2b2b">0.019</text>
<text x="453.12" y="417.04" font-size="6.3" text-anchor="middle" fill="#2b2b2b">0.0</text>
<text x="477.28" y="417.04" font-size="6.3" text-anchor="middle" fill="#2b2b2b">0.0</text>
<text x="501.43" y="417.04" font-size="6.3" text-anchor="middle" fill="#2b2b2b">0.057</text>
<text x="525.58" y="417.04" font-size="6.3" text-anchor="middle" fill="#2b2b2b">0.009</text>
<text x="549.73" y="417.04" font-size="6.3" text-anchor="middle" fill="#2b2b2b">0.113</text>
<text x="573.88" y="417.04" font-size="6.3" text-anchor="middle" fill="#2b2b2b">0.009</text>
<text x="598.02" y="417.04" font-size="6.3" text-anchor="middle" fill="#2b2b2b">0.009</text>
<text x="622.17" y="417.04" font-size="6.3" text-anchor="middle" fill="#2b2b2b">0.066</text>
<text x="646.33" y="417.04" font-size="6.3" text-anchor="middle" fill="#2b2b2b">0.019</text>
<text x="670.48" y="417.04" font-size="6.3" text-anchor="middle" fill="#2b2b2b">-</text>
<text x="380.68" y="433.43" font-size="6.3" text-anchor="middle" fill="#fff">0.662</text>
<text x="404.83" y="433.43" font-size="6.3" text-anchor="middle" fill="#2b2b2b">0.0</text>
<text x="428.98" y="433.43" font-size="6.3" text-anchor="middle" fill="#2b2b2b">0.0</text>
<text x="453.12" y="433.43" font-size="6.3" text-anchor="middle" fill="#2b2b2b">0.0</text>
<text x="477.28" y="433.43" font-size="6.3" text-anchor="middle" fill="#2b2b2b">0.015</text>
<text x="501.43" y="433.43" font-size="6.3" text-anchor="middle" fill="#2b2b2b">0.015</text>
<text x="525.58" y="433.43" font-size="6.3" text-anchor="middle" fill="#2b2b2b">0.029</text>
<text x="549.73" y="433.43" font-size="6.3" text-anchor="middle" fill="#2b2b2b">0.059</text>
<text x="573.88" y="433.43" font-size="6.3" text-anchor="middle" fill="#2b2b2b">0.029</text>
<text x="598.02" y="433.43" font-size="6.3" text-anchor="middle" fill="#2b2b2b">0.044</text>
<text x="622.17" y="433.43" font-size="6.3" text-anchor="middle" fill="#fff">0.147</text>
<text x="646.33" y="433.43" font-size="6.3" text-anchor="middle" fill="#2b2b2b">0.0</text>
<text x="670.48" y="433.43" font-size="6.3" text-anchor="middle" fill="#2b2b2b">-</text>
<text x="380.68" y="449.81" font-size="6.3" text-anchor="middle" fill="#fff">0.549</text>
<text x="404.83" y="449.81" font-size="6.3" text-anchor="middle" fill="#2b2b2b">0.005</text>
<text x="428.98" y="449.81" font-size="6.3" text-anchor="middle" fill="#2b2b2b">0.028</text>
<text x="453.12" y="449.81" font-size="6.3" text-anchor="middle" fill="#2b2b2b">0.002</text>
<text x="477.28" y="449.81" font-size="6.3" text-anchor="middle" fill="#2b2b2b">0.0</text>
<text x="501.43" y="449.81" font-size="6.3" text-anchor="middle" fill="#2b2b2b">0.032</text>
<text x="525.58" y="449.81" font-size="6.3" text-anchor="middle" fill="#2b2b2b">0.009</text>
<text x="549.73" y="449.81" font-size="6.3" text-anchor="middle" fill="#fff">0.172</text>
<text x="573.88" y="449.81" font-size="6.3" text-anchor="middle" fill="#2b2b2b">0.064</text>
<text x="598.02" y="449.81" font-size="6.3" text-anchor="middle" fill="#2b2b2b">0.028</text>
<text x="622.17" y="449.81" font-size="6.3" text-anchor="middle" fill="#2b2b2b">0.087</text>
<text x="646.33" y="449.81" font-size="6.3" text-anchor="middle" fill="#2b2b2b">0.023</text>
<text x="670.48" y="449.81" font-size="6.3" text-anchor="middle" fill="#2b2b2b">-</text>
<text x="380.68" y="466.19" font-size="6.3" text-anchor="middle" fill="#fff">0.333</text>
<text x="404.83" y="466.19" font-size="6.3" text-anchor="middle" fill="#2b2b2b">0.0</text>
<text x="428.98" y="466.19" font-size="6.3" text-anchor="middle" fill="#2b2b2b">0.0</text>
<text x="453.12" y="466.19" font-size="6.3" text-anchor="middle" fill="#2b2b2b">0.0</text>
<text x="477.28" y="466.19" font-size="6.3" text-anchor="middle" fill="#2b2b2b">0.011</text>
<text x="501.43" y="466.19" font-size="6.3" text-anchor="middle" fill="#2b2b2b">0.032</text>
<text x="525.58" y="466.19" font-size="6.3" text-anchor="middle" fill="#2b2b2b">0.011</text>
<text x="549.73" y="466.19" font-size="6.3" text-anchor="middle" fill="#fff">0.28</text>
<text x="573.88" y="466.19" font-size="6.3" text-anchor="middle" fill="#fff">0.226</text>
<text x="598.02" y="466.19" font-size="6.3" text-anchor="middle" fill="#2b2b2b">0.022</text>
<text x="622.17" y="466.19" font-size="6.3" text-anchor="middle" fill="#2b2b2b">0.065</text>
<text x="646.33" y="466.19" font-size="6.3" text-anchor="middle" fill="#2b2b2b">0.022</text>
<text x="670.48" y="466.19" font-size="6.3" text-anchor="middle" fill="#2b2b2b">-</text>
<text x="380.68" y="482.56" font-size="6.3" text-anchor="middle" fill="#fff">0.378</text>
<text x="404.83" y="482.56" font-size="6.3" text-anchor="middle" fill="#2b2b2b">0.0</text>
<text x="428.98" y="482.56" font-size="6.3" text-anchor="middle" fill="#2b2b2b">0.011</text>
<text x="453.12" y="482.56" font-size="6.3" text-anchor="middle" fill="#2b2b2b">0.0</text>
<text x="477.28" y="482.56" font-size="6.3" text-anchor="middle" fill="#2b2b2b">0.0</text>
<text x="501.43" y="482.56" font-size="6.3" text-anchor="middle" fill="#2b2b2b">0.0</text>
<text x="525.58" y="482.56" font-size="6.3" text-anchor="middle" fill="#2b2b2b">0.0</text>
<text x="549.73" y="482.56" font-size="6.3" text-anchor="middle" fill="#2b2b2b">0.122</text>
<text x="573.88" y="482.56" font-size="6.3" text-anchor="middle" fill="#2b2b2b">0.022</text>
<text x="598.02" y="482.56" font-size="6.3" text-anchor="middle" fill="#2b2b2b">0.1</text>
<text x="622.17" y="482.56" font-size="6.3" text-anchor="middle" fill="#fff">0.244</text>
<text x="646.33" y="482.56" font-size="6.3" text-anchor="middle" fill="#2b2b2b">0.122</text>
<text x="670.48" y="482.56" font-size="6.3" text-anchor="middle" fill="#2b2b2b">-</text>
<text x="380.68" y="498.94" font-size="6.3" text-anchor="middle" fill="#fff">0.584</text>
<text x="404.83" y="498.94" font-size="6.3" text-anchor="middle" fill="#2b2b2b">0.0</text>
<text x="428.98" y="498.94" font-size="6.3" text-anchor="middle" fill="#2b2b2b">0.007</text>
<text x="453.12" y="498.94" font-size="6.3" text-anchor="middle" fill="#2b2b2b">0.004</text>
<text x="477.28" y="498.94" font-size="6.3" text-anchor="middle" fill="#2b2b2b">0.002</text>
<text x="501.43" y="498.94" font-size="6.3" text-anchor="middle" fill="#2b2b2b">0.018</text>
<text x="525.58" y="498.94" font-size="6.3" text-anchor="middle" fill="#2b2b2b">0.013</text>
<text x="549.73" y="498.94" font-size="6.3" text-anchor="middle" fill="#2b2b2b">0.084</text>
<text x="573.88" y="498.94" font-size="6.3" text-anchor="middle" fill="#2b2b2b">0.015</text>
<text x="598.02" y="498.94" font-size="6.3" text-anchor="middle" fill="#2b2b2b">0.042</text>
<text x="622.17" y="498.94" font-size="6.3" text-anchor="middle" fill="#fff">0.189</text>
<text x="646.33" y="498.94" font-size="6.3" text-anchor="middle" fill="#2b2b2b">0.042</text>
<text x="670.48" y="498.94" font-size="6.3" text-anchor="middle" fill="#2b2b2b">-</text>
<text x="380.68" y="515.33" font-size="6.3" text-anchor="middle" fill="#fff">0.516</text>
<text x="404.83" y="515.33" font-size="6.3" text-anchor="middle" fill="#2b2b2b">0.006</text>
<text x="428.98" y="515.33" font-size="6.3" text-anchor="middle" fill="#2b2b2b">0.006</text>
<text x="453.12" y="515.33" font-size="6.3" text-anchor="middle" fill="#2b2b2b">0.0</text>
<text x="477.28" y="515.33" font-size="6.3" text-anchor="middle" fill="#2b2b2b">0.019</text>
<text x="501.43" y="515.33" font-size="6.3" text-anchor="middle" fill="#2b2b2b">0.045</text>
<text x="525.58" y="515.33" font-size="6.3" text-anchor="middle" fill="#2b2b2b">0.019</text>
<text x="549.73" y="515.33" font-size="6.3" text-anchor="middle" fill="#2b2b2b">0.076</text>
<text x="573.88" y="515.33" font-size="6.3" text-anchor="middle" fill="#2b2b2b">0.025</text>
<text x="598.02" y="515.33" font-size="6.3" text-anchor="middle" fill="#2b2b2b">0.045</text>
<text x="622.17" y="515.33" font-size="6.3" text-anchor="middle" fill="#fff">0.166</text>
<text x="646.33" y="515.33" font-size="6.3" text-anchor="middle" fill="#2b2b2b">0.076</text>
<text x="670.48" y="515.33" font-size="6.3" text-anchor="middle" fill="#2b2b2b">-</text>
<text x="380.68" y="531.71" font-size="6.3" text-anchor="middle" fill="#2b2b2b">0.0</text>
<text x="404.83" y="531.71" font-size="6.3" text-anchor="middle" fill="#2b2b2b">0.0</text>
<text x="428.98" y="531.71" font-size="6.3" text-anchor="middle" fill="#2b2b2b">0.0</text>
<text x="453.12" y="531.71" font-size="6.3" text-anchor="middle" fill="#2b2b2b">0.0</text>
<text x="477.28" y="531.71" font-size="6.3" text-anchor="middle" fill="#2b2b2b">0.0</text>
<text x="501.43" y="531.71" font-size="6.3" text-anchor="middle" fill="#2b2b2b">0.0</text>
<text x="525.58" y="531.71" font-size="6.3" text-anchor="middle" fill="#2b2b2b">0.0</text>
<text x="549.73" y="531.71" font-size="6.3" text-anchor="middle" fill="#2b2b2b">0.0</text>
<text x="573.88" y="531.71" font-size="6.3" text-anchor="middle" fill="#fff">1.0</text>
<text x="598.02" y="531.71" font-size="6.3" text-anchor="middle" fill="#2b2b2b">0.0</text>
<text x="622.17" y="531.71" font-size="6.3" text-anchor="middle" fill="#2b2b2b">0.0</text>
<text x="646.33" y="531.71" font-size="6.3" text-anchor="middle" fill="#2b2b2b">0.0</text>
<text x="670.48" y="531.71" font-size="6.3" text-anchor="middle" fill="#2b2b2b">-</text>
<text transform="translate(380.68,323.08) scale(0.92,1)" font-size="6.8" text-anchor="middle" fill="#2a3f5f">0</text>
<text transform="translate(368.00,335.34) scale(0.9,1)" font-size="7.0" text-anchor="end" fill="#2a3f5f">0</text>
<text transform="translate(404.83,323.08) scale(0.92,1)" font-size="6.8" text-anchor="middle" fill="#2a3f5f">0-B</text>
<text transform="translate(368.00,351.72) scale(0.9,1)" font-size="7.0" text-anchor="end" fill="#2a3f5f">0-B</text>
<text transform="translate(428.98,323.08) scale(0.92,1)" font-size="6.8" text-anchor="middle" fill="#2a3f5f">0-A</text>
<text transform="translate(368.00,368.10) scale(0.9,1)" font-size="7.0" text-anchor="end" fill="#2a3f5f">0-A</text>
<text transform="translate(453.12,323.08) scale(0.92,1)" font-size="6.8" text-anchor="middle" fill="#2a3f5f">0-C</text>
<text transform="translate(368.00,384.48) scale(0.9,1)" font-size="7.0" text-anchor="end" fill="#2a3f5f">0-C</text>
<text transform="translate(477.28,323.08) scale(0.92,1)" font-size="6.8" text-anchor="middle" fill="#2a3f5f">0-D</text>
<text transform="translate(368.00,400.86) scale(0.9,1)" font-size="7.0" text-anchor="end" fill="#2a3f5f">0-D</text>
<text transform="translate(501.43,323.08) scale(0.92,1)" font-size="6.8" text-anchor="middle" fill="#2a3f5f">0-F</text>
<text transform="translate(368.00,417.24) scale(0.9,1)" font-size="7.0" text-anchor="end" fill="#2a3f5f">0-F</text>
<text transform="translate(525.58,323.08) scale(0.92,1)" font-size="6.8" text-anchor="middle" fill="#2a3f5f">0-E</text>
<text transform="translate(368.00,433.62) scale(0.9,1)" font-size="7.0" text-anchor="end" fill="#2a3f5f">0-E</text>
<text transform="translate(549.73,323.08) scale(0.92,1)" font-size="6.8" text-anchor="middle" fill="#2a3f5f">1-a</text>
<text transform="translate(368.00,450.00) scale(0.9,1)" font-size="7.0" text-anchor="end" fill="#2a3f5f">1-a</text>
<text transform="translate(573.88,323.08) scale(0.92,1)" font-size="6.8" text-anchor="middle" fill="#2a3f5f">1-b</text>
<text transform="translate(368.00,466.38) scale(0.9,1)" font-size="7.0" text-anchor="end" fill="#2a3f5f">1-b</text>
<text transform="translate(598.02,323.08) scale(0.92,1)" font-size="6.8" text-anchor="middle" fill="#2a3f5f">1-c</text>
<text transform="translate(368.00,482.76) scale(0.9,1)" font-size="7.0" text-anchor="end" fill="#2a3f5f">1-c</text>
<text transform="translate(622.17,323.08) scale(0.92,1)" font-size="6.8" text-anchor="middle" fill="#2a3f5f">2</text>
<text transform="translate(368.00,499.14) scale(0.9,1)" font-size="7.0" text-anchor="end" fill="#2a3f5f">2</text>
<text transform="translate(646.33,323.08) scale(0.92,1)" font-size="6.8" text-anchor="middle" fill="#2a3f5f">3</text>
<text transform="translate(368.00,515.52) scale(0.9,1)" font-size="7.0" text-anchor="end" fill="#2a3f5f">3</text>
<text transform="translate(670.48,323.08) scale(0.92,1)" font-size="6.8" text-anchor="middle" fill="#2a3f5f">4</text>
<text transform="translate(368.00,531.90) scale(0.9,1)" font-size="7.0" text-anchor="end" fill="#2a3f5f">4</text>
<text x="526.00" y="311.02" font-size="9.2" text-anchor="middle" fill="#000">End Subcluster</text>
<text x="0" y="0" font-size="9.25" text-anchor="middle" fill="#000" transform="translate(350.80,436.20) rotate(-90)">Start Subcluster</text>
</g>
<rect x="393.6" y="407.0" width="95.2" height="129.6" fill="none" stroke="#fdd02b" stroke-width="2"/>
<rect x="490.0" y="406.9" width="189.3" height="129.3" fill="none" stroke="#c0180c" stroke-width="2"/>
<rect x="404.4" y="536.6" width="84.8" height="25.8" fill="#fdd23c"/>
<text x="487.80" y="548.97" font-size="10.2" text-anchor="end" fill="#000">Decreased</text>
<text x="487.80" y="559.77" font-size="10.2" text-anchor="end" fill="#000">transitions leaving</text>
<rect x="545.8" y="536.2" width="134.2" height="26.3" fill="#bb1a0b"/>
<text x="678.00" y="549.37" font-size="10.2" text-anchor="end" fill="#fff">Increased transitions staying</text>
<text x="678.00" y="559.87" font-size="10.2" text-anchor="end" fill="#fff">within insomnia-like sleep</text>
<text x="30.10" y="749.05" font-size="7.0" text-anchor="end" fill="#2a3f5f">0</text>
<line x1="30.8" y1="730.50" x2="221.8" y2="730.50" stroke="#ebf0f8" stroke-width="0.8"/>
<text x="30.10" y="732.95" font-size="7.0" text-anchor="end" fill="#2a3f5f">0.01</text>
<line x1="30.8" y1="714.40" x2="221.8" y2="714.40" stroke="#ebf0f8" stroke-width="0.8"/>
<text x="30.10" y="716.85" font-size="7.0" text-anchor="end" fill="#2a3f5f">0.02</text>
<line x1="30.8" y1="698.30" x2="221.8" y2="698.30" stroke="#ebf0f8" stroke-width="0.8"/>
<text x="30.10" y="700.75" font-size="7.0" text-anchor="end" fill="#2a3f5f">0.03</text>
<line x1="30.8" y1="682.20" x2="221.8" y2="682.20" stroke="#ebf0f8" stroke-width="0.8"/>
<text x="30.10" y="684.65" font-size="7.0" text-anchor="end" fill="#2a3f5f">0.04</text>
<line x1="30.8" y1="666.10" x2="221.8" y2="666.10" stroke="#ebf0f8" stroke-width="0.8"/>
<text x="30.10" y="668.55" font-size="7.0" text-anchor="end" fill="#2a3f5f">0.05</text>
<line x1="30.8" y1="650.00" x2="221.8" y2="650.00" stroke="#ebf0f8" stroke-width="0.8"/>
<text x="30.10" y="652.45" font-size="7.0" text-anchor="end" fill="#2a3f5f">0.06</text>
<line x1="30.8" y1="633.90" x2="221.8" y2="633.90" stroke="#ebf0f8" stroke-width="0.8"/>
<text x="30.10" y="636.35" font-size="7.0" text-anchor="end" fill="#2a3f5f">0.07</text>
<line x1="30.8" y1="617.80" x2="221.8" y2="617.80" stroke="#ebf0f8" stroke-width="0.8"/>
<text x="30.10" y="620.25" font-size="7.0" text-anchor="end" fill="#2a3f5f">0.08</text>
<text x="13.70" y="607.70" font-size="10.0" fill="#2a3f5f">Information Gain across Condition and Model</text>
<rect x="36.3" y="613.4" width="4.4" height="4.4" fill="#636efa"/>
<text x="45.20" y="618.09" font-size="7.1" fill="#2a3f5f">Static Model</text>
<rect x="91.3" y="613.4" width="4.4" height="4.4" fill="#ef553b"/>
<text x="100.40" y="618.09" font-size="7.1" fill="#2a3f5f">Dynamic Model</text>
<rect x="34.90" y="742.09" width="15.3" height="4.51" fill="#636efa"/>
<rect x="50.20" y="737.91" width="15.3" height="8.69" fill="#ef553b"/>
<text x="50.20" y="754.38" font-size="7.1" text-anchor="middle" fill="#2a3f5f">sleep apnea</text>
<rect x="73.10" y="745.15" width="15.3" height="1.45" fill="#636efa"/>
<rect x="88.40" y="743.22" width="15.3" height="3.38" fill="#ef553b"/>
<text x="88.40" y="754.38" font-size="7.1" text-anchor="middle" fill="#2a3f5f">diabetes</text>
<rect x="111.30" y="727.60" width="15.3" height="19.00" fill="#636efa"/>
<rect x="126.60" y="682.52" width="15.3" height="64.08" fill="#ef553b"/>
<text x="126.60" y="754.38" font-size="7.1" text-anchor="middle" fill="#2a3f5f">COVID</text>
<rect x="149.50" y="744.99" width="15.3" height="1.61" fill="#636efa"/>
<rect x="164.80" y="724.06" width="15.3" height="22.54" fill="#ef553b"/>
<text x="164.80" y="754.38" font-size="7.1" text-anchor="middle" fill="#2a3f5f">Fever</text>
<rect x="187.70" y="723.09" width="15.3" height="23.51" fill="#636efa"/>
<rect x="203.00" y="624.24" width="15.3" height="122.36" fill="#ef553b"/>
<text x="203.00" y="754.38" font-size="7.1" text-anchor="middle" fill="#2a3f5f">Flu</text>
<text x="42.30" y="739.61" font-size="6.6" text-anchor="middle" fill="#2a3f5f">0.003</text>
<text x="57.60" y="744.70" font-size="6.0" text-anchor="middle" fill="#3b2a2a">0.005</text>
<text x="80.50" y="743.11" font-size="6.6" text-anchor="middle" fill="#2a3f5f">0.001</text>
<text x="95.70" y="740.71" font-size="6.6" text-anchor="middle" fill="#2a3f5f">0.002</text>
<text x="156.80" y="743.31" font-size="6.6" text-anchor="middle" fill="#2a3f5f">0.001</text>
<text x="0" y="0" font-size="7.2" text-anchor="middle" fill="#fff" transform="translate(116.36,736.50) rotate(90)">0.012</text>
<text x="0" y="0" font-size="7.2" text-anchor="middle" fill="#2a2a2a" transform="translate(131.66,692.00) rotate(90)">0.040</text>
<text x="0" y="0" font-size="7.2" text-anchor="middle" fill="#2a2a2a" transform="translate(169.86,734.00) rotate(90)">0.014</text>
<text x="0" y="0" font-size="7.2" text-anchor="middle" fill="#fff" transform="translate(192.76,733.00) rotate(90)">0.015</text>
<text x="0" y="0" font-size="7.2" text-anchor="middle" fill="#2a2a2a" transform="translate(208.06,633.50) rotate(90)">0.076</text>
<text x="126.30" y="767.34" font-size="8.7" text-anchor="middle" fill="#2a3f5f">condition</text>
<text x="0" y="0" font-size="8.2" text-anchor="middle" fill="#2a3f5f" transform="translate(8.25,682.50) rotate(-90)">Information Gain</text>
<text x="252.40" y="749.25" font-size="7.0" text-anchor="end" fill="#2a3f5f">0</text>
<line x1="252.3" y1="727.34" x2="444.8" y2="727.34" stroke="#ebf0f8" stroke-width="0.8"/>
<text x="252.40" y="729.79" font-size="7.0" text-anchor="end" fill="#2a3f5f">50</text>
<line x1="252.3" y1="707.88" x2="444.8" y2="707.88" stroke="#ebf0f8" stroke-width="0.8"/>
<text x="252.40" y="710.33" font-size="7.0" text-anchor="end" fill="#2a3f5f">100</text>
<line x1="252.3" y1="688.42" x2="444.8" y2="688.42" stroke="#ebf0f8" stroke-width="0.8"/>
<text x="252.40" y="690.87" font-size="7.0" text-anchor="end" fill="#2a3f5f">150</text>
<line x1="252.3" y1="668.96" x2="444.8" y2="668.96" stroke="#ebf0f8" stroke-width="0.8"/>
<text x="252.40" y="671.41" font-size="7.0" text-anchor="end" fill="#2a3f5f">200</text>
<line x1="252.3" y1="649.50" x2="444.8" y2="649.50" stroke="#ebf0f8" stroke-width="0.8"/>
<text x="252.40" y="651.95" font-size="7.0" text-anchor="end" fill="#2a3f5f">250</text>
<line x1="252.3" y1="630.04" x2="444.8" y2="630.04" stroke="#ebf0f8" stroke-width="0.8"/>
<text x="252.40" y="632.49" font-size="7.0" text-anchor="end" fill="#2a3f5f">300</text>
<text x="236.60" y="607.10" font-size="10.0" fill="#2a3f5f">Negative Log P-Value across Condition and Model</text>
<rect x="257.4" y="612.8" width="4.4" height="4.4" fill="#636efa"/>
<text x="267.00" y="617.49" font-size="7.1" fill="#2a3f5f">Static Model</text>
<rect x="312.8" y="612.8" width="4.4" height="4.4" fill="#ef553b"/>
<text x="322.00" y="617.49" font-size="7.1" fill="#2a3f5f">Dynamic Model</text>
<rect x="256.60" y="737.38" width="15.3" height="9.42" fill="#636efa"/>
<rect x="271.90" y="624.19" width="15.3" height="122.61" fill="#ef553b"/>
<text x="271.90" y="754.09" font-size="7.1" text-anchor="middle" fill="#2a3f5f">sleep apnea</text>
<text x="264.25" y="743.84" font-size="5.0" text-anchor="middle" fill="#fff">24.215</text>
<text x="0" y="0" font-size="7.4" text-anchor="middle" fill="#2a2a2a" transform="translate(276.89,639.14) rotate(90)">315.029</text>
<rect x="295.10" y="737.77" width="15.3" height="9.03" fill="#636efa"/>
<rect x="310.40" y="654.30" width="15.3" height="92.50" fill="#ef553b"/>
<text x="310.40" y="754.09" font-size="7.1" text-anchor="middle" fill="#2a3f5f">diabetes</text>
<text x="302.75" y="744.04" font-size="5.0" text-anchor="middle" fill="#fff">23.198</text>
<text x="0" y="0" font-size="7.4" text-anchor="middle" fill="#2a2a2a" transform="translate(315.39,669.25) rotate(90)">237.679</text>
<rect x="333.60" y="740.36" width="15.3" height="6.44" fill="#636efa"/>
<rect x="348.90" y="723.34" width="15.3" height="23.46" fill="#ef553b"/>
<text x="348.90" y="754.09" font-size="7.1" text-anchor="middle" fill="#2a3f5f">COVID</text>
<text x="341.25" y="739.12" font-size="5.6" text-anchor="middle" fill="#2a3f5f">16.550</text>
<text x="0" y="0" font-size="7.4" text-anchor="middle" fill="#2a2a2a" transform="translate(353.89,736.44) rotate(90)">60.272</text>
<rect x="372.10" y="736.40" width="15.3" height="10.40" fill="#636efa"/>
<rect x="387.40" y="689.53" width="15.3" height="57.27" fill="#ef553b"/>
<text x="387.40" y="754.09" font-size="7.1" text-anchor="middle" fill="#2a3f5f">Fever</text>
<text x="379.75" y="743.35" font-size="5.0" text-anchor="middle" fill="#fff">26.729</text>
<text x="0" y="0" font-size="7.4" text-anchor="middle" fill="#2a2a2a" transform="translate(392.39,704.48) rotate(90)">147.141</text>
<rect x="410.60" y="740.09" width="15.3" height="6.71" fill="#636efa"/>
<rect x="425.90" y="736.16" width="15.3" height="10.64" fill="#ef553b"/>
<text x="425.90" y="754.09" font-size="7.1" text-anchor="middle" fill="#2a3f5f">Flu</text>
<text x="418.25" y="738.85" font-size="5.6" text-anchor="middle" fill="#2a3f5f">17.243</text>
<text x="433.55" y="743.23" font-size="5.0" text-anchor="middle" fill="#3b2a2a">27.336</text>
<text x="348.50" y="766.94" font-size="8.7" text-anchor="middle" fill="#2a3f5f">condition</text>
<text x="0" y="0" font-size="8.7" text-anchor="middle" fill="#2a3f5f" transform="translate(231.93,681.70) rotate(-90)">Negative Log P-Value</text>
<text x="486.20" y="743.51" font-size="6.6" text-anchor="end" fill="#2a3f5f">0</text>
<line x1="486.7" y1="719.45" x2="678.7" y2="719.45" stroke="#ebf0f8" stroke-width="0.8"/>
<text x="486.20" y="721.76" font-size="6.6" text-anchor="end" fill="#2a3f5f">2</text>
<line x1="486.7" y1="697.70" x2="678.7" y2="697.70" stroke="#ebf0f8" stroke-width="0.8"/>
<text x="486.20" y="700.01" font-size="6.6" text-anchor="end" fill="#2a3f5f">4</text>
<line x1="486.7" y1="675.95" x2="678.7" y2="675.95" stroke="#ebf0f8" stroke-width="0.8"/>
<text x="486.20" y="678.26" font-size="6.6" text-anchor="end" fill="#2a3f5f">6</text>
<line x1="486.7" y1="654.20" x2="678.7" y2="654.20" stroke="#ebf0f8" stroke-width="0.8"/>
<text x="486.20" y="656.51" font-size="6.6" text-anchor="end" fill="#2a3f5f">8</text>
<line x1="486.7" y1="632.45" x2="678.7" y2="632.45" stroke="#ebf0f8" stroke-width="0.8"/>
<text x="486.20" y="634.76" font-size="6.6" text-anchor="end" fill="#2a3f5f">10</text>
<text x="470.80" y="605.90" font-size="10.0" fill="#2a3f5f">Ratio of Information Gain of Dynamic over Static</text>
<text x="470.80" y="618.80" font-size="10.0" fill="#2a3f5f">Models across Condition</text>
<rect x="490.65" y="719.92" width="30.5" height="21.28" fill="#00cc96"/>
<text x="505.90" y="727.67" font-size="7.0" text-anchor="middle" fill="#2a3a3a">1.957</text>
<text x="505.90" y="748.81" font-size="6.6" text-anchor="middle" fill="#2a3f5f">sleep apnea</text>
<rect x="529.05" y="718.73" width="30.5" height="22.47" fill="#00cc96"/>
<text x="544.30" y="726.48" font-size="7.0" text-anchor="middle" fill="#2a3a3a">2.066</text>
<text x="544.30" y="748.81" font-size="6.6" text-anchor="middle" fill="#2a3f5f">diabetes</text>
<rect x="567.45" y="704.63" width="30.5" height="36.57" fill="#00cc96"/>
<text x="582.70" y="712.38" font-size="7.0" text-anchor="middle" fill="#2a3a3a">3.363</text>
<text x="582.70" y="748.81" font-size="6.6" text-anchor="middle" fill="#2a3f5f">COVID</text>
<rect x="605.85" y="632.92" width="30.5" height="108.28" fill="#00cc96"/>
<text x="621.10" y="640.67" font-size="7.0" text-anchor="middle" fill="#2a3a3a">9.957</text>
<text x="621.10" y="748.81" font-size="6.6" text-anchor="middle" fill="#2a3f5f">Fever</text>
<rect x="644.25" y="684.72" width="30.5" height="56.48" fill="#00cc96"/>
<text x="659.50" y="692.47" font-size="7.0" text-anchor="middle" fill="#2a3a3a">5.194</text>
<text x="659.50" y="748.81" font-size="6.6" text-anchor="middle" fill="#2a3f5f">Flu</text>
<text x="582.60" y="762.07" font-size="8.2" text-anchor="middle" fill="#2a3f5f">condition</text>
<text x="0" y="0" font-size="8.2" text-anchor="middle" fill="#2a3f5f" transform="translate(466.35,684.00) rotate(-90)">Ratio</text>
</svg></body></html>
